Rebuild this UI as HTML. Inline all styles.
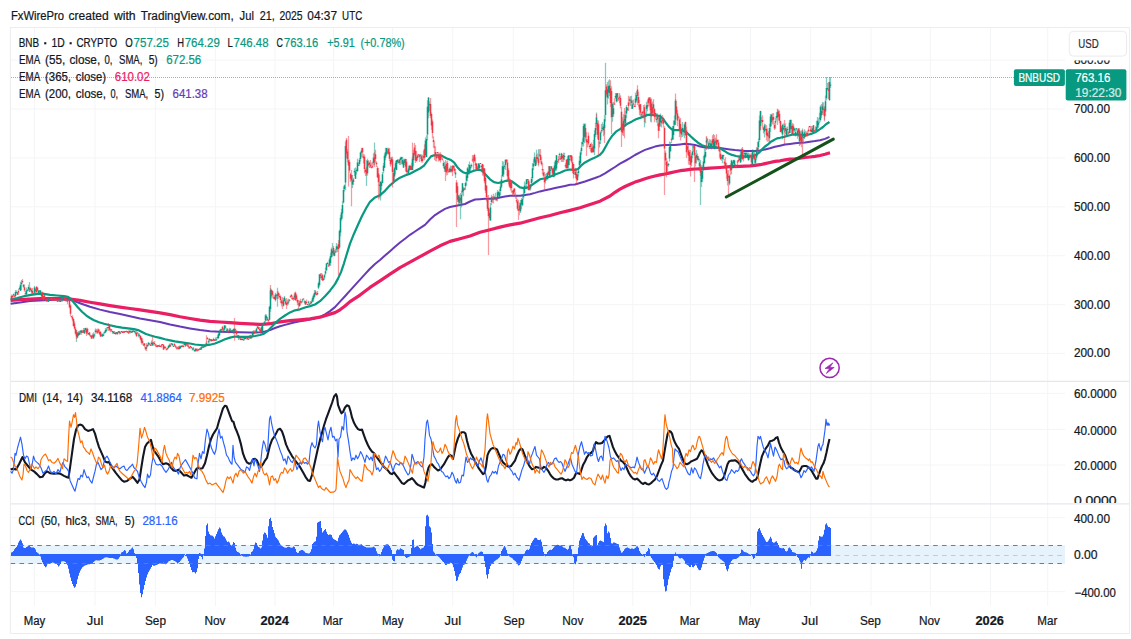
<!DOCTYPE html><html><head><meta charset="utf-8"><title>BNBUSD chart</title>
<style>html,body{margin:0;padding:0;background:#fff;}body{width:1131px;height:639px;overflow:hidden;font-family:"Liberation Sans",sans-serif;}svg{display:block;position:absolute;left:0;top:0;}text{font-family:"Liberation Sans",sans-serif;white-space:pre;}</style></head><body>
<svg width="1131" height="639" viewBox="0 0 1131 639">
<rect x="0" y="0" width="1131" height="639" fill="#ffffff"/>
<g stroke="#f4f5f7" stroke-width="1">
<line x1="34.5" y1="28" x2="34.5" y2="606"/>
<line x1="95.0" y1="28" x2="95.0" y2="606"/>
<line x1="155.4" y1="28" x2="155.4" y2="606"/>
<line x1="215.4" y1="28" x2="215.4" y2="606"/>
<line x1="275.0" y1="28" x2="275.0" y2="606"/>
<line x1="333.5" y1="28" x2="333.5" y2="606"/>
<line x1="392.6" y1="28" x2="392.6" y2="606"/>
<line x1="452.7" y1="28" x2="452.7" y2="606"/>
<line x1="513.3" y1="28" x2="513.3" y2="606"/>
<line x1="573.5" y1="28" x2="573.5" y2="606"/>
<line x1="632.8" y1="28" x2="632.8" y2="606"/>
<line x1="690.5" y1="28" x2="690.5" y2="606"/>
<line x1="750.5" y1="28" x2="750.5" y2="606"/>
<line x1="810.6" y1="28" x2="810.6" y2="606"/>
<line x1="871.0" y1="28" x2="871.0" y2="606"/>
<line x1="930.4" y1="28" x2="930.4" y2="606"/>
<line x1="990.5" y1="28" x2="990.5" y2="606"/>
<line x1="1047.7" y1="28" x2="1047.7" y2="606"/>
<line x1="11" y1="60.10" x2="1065" y2="60.10"/>
<line x1="11" y1="109.00" x2="1065" y2="109.00"/>
<line x1="11" y1="157.90" x2="1065" y2="157.90"/>
<line x1="11" y1="206.80" x2="1065" y2="206.80"/>
<line x1="11" y1="255.70" x2="1065" y2="255.70"/>
<line x1="11" y1="304.60" x2="1065" y2="304.60"/>
<line x1="11" y1="353.45" x2="1065" y2="353.45"/>
<line x1="11" y1="393.40" x2="1065" y2="393.40"/>
<line x1="11" y1="429.50" x2="1065" y2="429.50"/>
<line x1="11" y1="465.00" x2="1065" y2="465.00"/>
<line x1="11" y1="517.70" x2="1065" y2="517.70"/>
<line x1="11" y1="591.60" x2="1065" y2="591.60"/>
</g>
<rect x="11" y="545.2" width="1054" height="18.7" fill="#e6f2fc"/>
<g stroke="#e4e7ef" stroke-width="1.2">
<line x1="11" y1="381.4" x2="1129" y2="381.4"/>
<line x1="11" y1="503.8" x2="1129" y2="503.8"/>
</g>
<rect x="10.4" y="27.5" width="1119" height="606" fill="none" stroke="#ededf0" stroke-width="1"/>
<line x1="11" y1="77.5" x2="1014" y2="77.5" stroke="#089981" stroke-width="1" stroke-dasharray="1 1" shape-rendering="crispEdges" stroke-opacity="0.55"/>
<polyline points="10.6,303.7 20.0,302.5 30.0,301.1 40.0,300.4 50.0,300.0 60.0,299.4 66.0,299.4 70.0,299.7 75.0,301.4 80.0,303.2 90.0,306.8 100.0,309.6 110.0,312.0 120.0,314.1 130.0,316.3 140.0,318.4 150.0,320.2 160.0,322.0 170.0,324.5 180.0,326.6 190.0,328.4 200.0,330.1 210.0,331.2 220.0,331.8 230.0,332.0 240.0,332.2 250.0,332.5 255.0,332.5 260.0,332.2 265.0,331.5 270.0,330.1 275.0,328.0 280.0,326.3 285.0,324.9 290.0,323.5 295.0,322.3 300.0,321.3 305.0,320.5 310.0,319.5 315.0,318.4 320.0,317.0 325.0,314.4 330.0,311.1 335.0,307.1 340.0,301.6 345.0,296.2 350.0,290.7 355.0,285.2 360.0,279.7 365.0,274.2 370.0,268.8 375.0,264.0 380.0,260.0 385.0,255.6 390.0,251.2 395.0,246.8 400.0,242.5 405.0,238.7 410.0,234.8 415.0,231.5 420.0,228.2 425.0,224.9 430.0,219.5 435.0,215.1 440.0,211.8 445.0,208.9 450.0,207.0 455.0,206.0 460.0,205.0 465.0,204.0 470.0,201.5 475.0,199.5 480.0,199.2 485.0,198.8 490.0,198.8 495.0,198.6 500.0,197.5 505.0,196.4 510.0,195.8 515.0,195.8 520.0,195.8 525.0,195.1 530.0,194.2 535.0,192.9 540.0,191.4 545.0,190.3 550.0,189.2 555.0,188.1 560.0,187.0 565.0,185.9 570.0,184.8 575.0,184.5 580.0,183.0 585.0,181.5 590.0,179.7 595.0,178.0 600.0,176.1 605.0,173.4 610.0,170.2 615.0,167.0 620.0,163.7 625.0,161.0 630.0,158.2 635.0,155.0 640.0,152.3 645.0,149.9 650.0,148.2 655.0,146.6 660.0,145.5 665.0,144.9 670.0,144.9 675.0,144.9 680.0,144.4 685.0,143.8 690.0,144.2 695.0,144.9 700.0,146.5 705.0,147.4 710.0,147.7 715.0,147.4 720.0,148.0 725.0,148.8 730.0,149.5 735.0,150.1 740.0,150.5 745.0,150.9 750.0,151.1 755.0,151.1 760.0,150.5 765.0,149.4 770.0,148.3 775.0,146.8 780.0,145.7 785.0,144.6 790.0,143.9 795.0,143.2 800.0,142.8 805.0,142.4 810.0,141.7 815.0,141.1 820.0,140.2 825.0,138.9 829.5,136.9" fill="none" stroke="#673ab7" stroke-width="2" stroke-linejoin="round" stroke-linecap="butt"/>
<polyline points="10.6,300.4 20.0,299.7 30.0,299.1 40.0,298.7 50.0,298.7 60.0,298.7 70.0,299.0 80.0,300.4 90.0,302.2 100.0,303.9 110.0,305.6 120.0,307.1 130.0,308.5 140.0,309.9 150.0,311.3 160.0,312.9 170.0,314.6 180.0,316.7 190.0,318.5 200.0,320.2 210.0,321.3 220.0,322.0 230.0,322.6 240.0,323.3 250.0,323.9 260.0,324.3 265.0,324.2 270.0,323.7 275.0,322.8 280.0,321.9 290.0,320.6 300.0,319.8 310.0,318.8 320.0,317.2 330.0,314.1 335.0,312.6 340.0,309.8 345.0,306.0 350.0,301.6 360.0,295.1 370.0,287.4 380.0,280.8 390.0,274.2 400.0,267.7 410.0,262.2 420.0,256.7 430.0,251.2 440.0,245.8 450.0,241.4 460.0,238.7 470.0,236.0 480.0,232.2 490.0,229.7 500.0,227.1 510.0,224.9 520.0,223.2 530.0,220.5 540.0,217.7 550.0,215.5 560.0,212.8 570.0,210.4 580.0,207.8 590.0,204.5 600.0,201.2 610.0,196.0 615.0,192.3 620.0,189.1 625.0,186.5 630.0,184.3 635.0,182.1 640.0,180.4 645.0,178.8 650.0,177.3 655.0,176.0 660.0,174.9 665.0,174.0 670.0,172.9 675.0,171.8 680.0,170.7 685.0,170.1 690.0,169.4 695.0,169.0 700.0,168.8 710.0,168.2 720.0,167.5 730.0,166.7 740.0,166.3 750.0,165.8 755.0,165.4 760.0,164.7 765.0,163.6 770.0,162.5 775.0,161.4 780.0,160.8 785.0,159.9 790.0,159.2 795.0,158.8 800.0,158.2 805.0,157.5 810.0,157.0 815.0,156.4 820.0,155.5 825.0,154.2 830.0,152.7" fill="none" stroke="#e91e63" stroke-width="3.2" stroke-linejoin="round" stroke-linecap="butt"/>
<polyline points="10.6,299.4 17.0,298.0 24.0,296.2 31.0,294.8 38.0,293.8 42.5,293.6 50.0,294.9 57.0,295.5 64.0,296.2 68.0,296.9 71.0,299.0 74.0,302.8 78.0,307.5 82.0,311.7 86.0,315.3 90.0,318.0 94.0,320.2 99.0,322.3 104.0,323.7 110.0,325.2 116.0,326.6 122.0,327.7 128.0,328.3 134.0,329.1 138.0,330.1 142.0,332.0 146.0,334.0 150.0,335.3 155.0,336.8 160.0,337.9 165.0,339.3 170.0,340.4 175.0,341.4 180.0,342.1 185.0,342.8 190.0,343.5 195.0,344.5 200.0,345.0 205.0,345.4 210.0,344.7 215.0,343.5 220.0,341.4 225.0,339.3 230.0,337.6 235.0,336.5 240.0,336.8 245.0,336.9 250.0,336.8 255.0,336.0 260.0,335.0 264.0,333.6 268.0,330.8 272.0,326.6 276.0,322.3 280.0,318.8 285.0,315.5 290.0,312.4 295.0,310.3 300.0,309.3 305.0,307.5 310.0,306.1 315.0,304.5 320.0,301.2 325.0,296.2 330.0,290.7 335.0,284.1 338.0,278.6 341.0,272.1 344.0,263.3 347.0,253.4 350.0,243.6 354.0,233.7 358.0,224.8 362.0,216.0 366.0,208.4 370.0,201.8 375.0,197.4 380.0,195.2 385.0,190.8 390.0,185.3 395.0,181.0 400.0,177.7 405.0,175.5 410.0,173.7 415.0,171.1 420.0,168.5 424.0,165.6 428.0,160.1 431.0,156.4 434.0,155.3 437.0,155.3 440.0,155.3 443.0,156.4 447.0,158.4 451.0,160.1 454.0,162.3 457.0,166.7 460.0,170.0 463.0,172.2 466.0,173.3 470.0,172.2 474.0,170.7 478.0,169.6 482.0,170.5 486.0,174.9 490.0,179.3 494.0,182.2 498.0,183.0 502.0,182.2 506.0,180.8 509.0,180.4 512.0,181.5 516.0,184.4 520.0,187.4 524.0,188.1 528.0,187.4 532.0,184.8 536.0,182.0 540.0,179.3 545.0,178.2 550.0,176.7 555.0,174.5 560.0,172.7 565.0,170.5 570.0,169.5 575.0,169.9 578.0,169.0 581.0,165.7 585.0,162.4 590.0,159.8 595.0,157.6 600.0,154.7 603.0,151.4 606.0,146.0 609.0,140.5 612.0,136.1 616.0,131.7 620.0,129.1 624.0,126.2 628.0,123.4 632.0,121.4 636.0,119.2 640.0,117.9 644.0,116.4 648.0,114.8 652.0,114.6 656.0,115.3 660.0,116.4 663.0,118.6 666.0,123.0 669.0,126.9 672.0,129.5 675.0,130.2 679.0,130.2 683.0,130.6 686.0,132.2 690.0,135.7 694.0,139.4 698.0,142.7 702.0,145.2 706.0,146.6 710.0,147.0 715.0,147.0 720.0,148.3 724.0,150.7 728.0,153.3 732.0,154.9 736.0,156.0 740.0,156.6 744.0,156.6 748.0,156.4 752.0,156.0 756.0,154.9 759.0,152.7 762.0,149.4 765.0,146.5 768.0,144.3 771.0,141.7 774.0,140.0 777.0,138.4 780.0,137.8 784.0,136.9 788.0,135.8 792.0,134.7 796.0,134.3 800.0,134.7 804.0,135.1 808.0,134.7 812.0,133.6 816.0,131.9 820.0,129.2 823.0,127.0 826.0,124.2 829.5,122.0" fill="none" stroke="#089981" stroke-width="2.2" stroke-linejoin="round" stroke-linecap="butt"/>
<path d="M13.5 293.5V296.4M15.5 289.9V296.6M16.5 290.3V293.3M19.5 286.6V289.9M20.5 281.8V291.1M21.5 281.1V285.0M23.5 284.3V287.8M26.5 287.4V295.1M27.5 289.0V291.4M28.5 284.8V290.9M31.5 288.6V293.7M34.5 286.0V293.5M35.5 288.3V293.0M38.5 290.1V293.7M39.5 290.1V294.4M40.5 290.1V293.6M41.5 292.5V298.5M45.5 299.3V301.1M47.5 298.0V302.0M48.5 298.0V302.0M53.5 298.4V300.4M57.5 299.0V301.8M58.5 299.0V301.8M60.5 299.5V301.8M61.5 296.6V301.8M62.5 297.7V301.8M63.5 296.6V300.7M66.5 298.7V301.4M68.5 298.7V300.0M77.5 331.9V338.3M78.5 330.9V336.1M80.5 329.9V334.4M81.5 329.8V334.7M84.5 328.1V334.0M85.5 327.7V331.9M88.5 333.0V334.9M93.5 332.2V338.8M94.5 333.6V337.1M95.5 328.4V333.6M101.5 333.5V336.8M102.5 333.4V336.8M103.5 332.4V336.0M104.5 331.4V334.1M105.5 328.0V333.0M106.5 327.7V331.7M112.5 331.0V334.0M113.5 331.0V334.0M116.5 332.0V334.2M118.5 331.0V332.8M120.5 332.4V333.7M123.5 331.3V333.0M127.5 331.0V332.9M129.5 330.5V333.5M130.5 330.5V333.4M132.5 330.5V333.0M133.5 330.5V332.1M134.5 331.0V333.1M135.5 331.0V334.6M138.5 333.0V337.3M143.5 343.1V345.5M146.5 345.5V349.0M147.5 344.0V347.1M148.5 342.1V346.1M151.5 340.4V345.9M152.5 342.0V345.9M159.5 344.4V346.9M168.5 345.5V348.5M169.5 343.4V347.3M171.5 343.4V345.0M172.5 343.4V346.0M173.5 345.7V346.9M179.5 345.5V349.4M180.5 345.5V349.1M181.5 345.5V347.3M184.5 343.4V345.2M185.5 343.6V346.9M189.5 347.1V348.7M192.5 347.7V350.6M194.5 349.7V351.5M195.5 348.3V351.5M200.5 346.9V350.1M201.5 346.0V350.1M202.5 346.1V347.9M204.5 345.9V347.3M206.5 341.5V345.8M208.5 339.3V343.4M210.5 339.2V341.3M213.5 337.7V340.9M215.5 337.5V340.9M216.5 337.6V340.8M217.5 335.3V339.1M218.5 332.1V339.2M219.5 330.0V336.1M220.5 328.8V333.0M223.5 328.1V332.0M224.5 325.3V330.8M225.5 325.2V328.4M226.5 328.2V332.4M229.5 327.7V332.1M230.5 328.1V331.3M232.5 329.7V332.1M233.5 328.4V333.9M234.5 328.0V331.2M237.5 335.1V338.1M238.5 334.8V339.9M241.5 338.4V340.2M242.5 338.4V340.2M244.5 337.7V340.2M245.5 337.8V339.3M250.5 334.8V338.9M252.5 331.2V336.3M253.5 330.3V336.4M256.5 328.0V333.2M261.5 325.9V333.2M262.5 323.6V332.1M263.5 322.5V326.0M264.5 321.0V323.0M265.5 314.0V322.3M266.5 314.4V318.9M269.5 305.8V320.2M270.5 288.0V312.0M275.5 292.8V301.4M276.5 294.2V298.7M283.5 298.0V306.5M284.5 296.0V301.5M288.5 298.8V304.5M294.5 293.7V299.9M299.5 300.6V306.9M302.5 298.7V302.3M304.5 300.2V303.7M308.5 300.8V304.5M309.5 303.2V304.9M311.5 300.3V303.5M312.5 296.4V302.1M313.5 293.7V301.7M314.5 289.9V297.5M317.5 290.9V295.1M318.5 281.8V289.2M319.5 274.0V286.6M321.5 273.1V279.9M323.5 277.5V280.8M324.5 274.1V279.6M325.5 267.5V275.3M326.5 263.3V270.9M327.5 261.8V264.3M329.5 257.8V266.2M330.5 252.7V265.9M331.5 247.5V257.8M332.5 249.2V256.6M334.5 249.9V256.3M336.5 243.1V252.5M337.5 245.4V252.0M339.5 229.6V248.2M340.5 214.7V236.5M341.5 208.8V220.7M342.5 201.3V218.5M343.5 186.4V203.5M344.5 184.4V191.6M345.5 143.5V184.1M352.5 175.1V188.1M354.5 168.2V175.9M355.5 167.6V179.0M356.5 168.4V174.6M357.5 158.8V172.0M358.5 162.6V165.8M359.5 158.0V165.8M360.5 151.8V161.5M361.5 147.8V157.2M367.5 158.8V175.4M369.5 161.4V168.0M373.5 153.3V165.4M380.5 180.9V200.4M381.5 180.4V190.2M382.5 171.9V183.3M383.5 163.1V173.4M384.5 153.5V168.0M385.5 147.8V160.2M386.5 147.8V156.1M387.5 147.8V154.3M391.5 156.7V164.4M394.5 167.3V180.1M395.5 161.0V174.4M396.5 159.9V170.2M397.5 158.9V163.7M398.5 159.3V163.6M400.5 156.7V165.1M401.5 156.7V164.3M402.5 156.7V165.0M403.5 158.8V168.0M404.5 158.8V164.9M408.5 165.4V174.6M409.5 164.8V171.3M412.5 156.5V170.3M413.5 149.8V166.3M417.5 154.5V160.0M420.5 154.5V158.7M423.5 150.5V159.4M425.5 137.4V157.2M426.5 135.2V157.2M427.5 100.2V140.4M428.5 97.3V113.9M429.5 101.6V110.8M443.5 160.4V167.9M444.5 162.0V171.7M450.5 165.4V172.4M453.5 165.4V169.3M455.5 169.0V178.0M458.5 194.9V205.4M460.5 192.9V205.9M461.5 190.6V207.5M462.5 182.9V195.2M464.5 187.6V189.9M465.5 181.5V189.9M466.5 173.5V185.5M467.5 166.9V181.3M468.5 163.9V174.6M469.5 161.4V174.6M470.5 164.5V171.3M471.5 163.6V167.4M473.5 156.6V162.5M478.5 163.2V170.2M479.5 163.2V170.2M481.5 164.7V172.3M483.5 164.9V176.2M490.5 202.7V221.0M491.5 194.8V205.2M494.5 195.7V199.6M495.5 192.8V200.5M497.5 190.1V201.3M498.5 191.1V197.1M499.5 189.2V197.1M500.5 181.4V195.3M501.5 175.2V188.3M502.5 161.0V177.2M503.5 161.8V177.1M504.5 164.7V168.9M505.5 159.4V170.1M520.5 200.1V212.9M521.5 198.0V209.0M522.5 195.6V205.8M523.5 188.7V199.3M524.5 181.4V194.7M525.5 183.3V188.3M526.5 179.1V189.3M530.5 184.0V190.5M531.5 177.0V186.3M532.5 163.1V181.7M533.5 159.3V170.1M534.5 152.4V164.7M535.5 156.7V166.3M537.5 153.5V161.6M545.5 174.0V183.5M546.5 172.9V180.5M547.5 171.7V179.5M549.5 166.0V177.3M550.5 166.1V174.9M553.5 167.6V177.3M554.5 162.1V177.3M555.5 160.0V170.9M556.5 155.0V170.8M559.5 152.8V159.8M561.5 152.7V162.1M564.5 152.8V160.3M567.5 156.3V168.6M568.5 155.0V168.6M575.5 167.7V178.1M577.5 171.9V180.9M578.5 169.4V176.4M579.5 155.9V168.7M580.5 150.5V164.1M581.5 141.8V154.5M582.5 138.2V146.8M583.5 123.6V146.4M584.5 123.6V143.2M587.5 139.0V147.4M593.5 139.8V152.8M594.5 130.2V154.9M595.5 122.8V137.1M596.5 112.6V126.7M599.5 140.4V147.6M600.5 131.3V143.9M602.5 122.3V131.2M603.5 124.1V136.2M604.5 115.0V134.6M605.5 87.4V121.4M607.5 82.1V104.6M608.5 80.5V98.7M609.5 79.3V96.0M612.5 102.6V121.8M613.5 101.9V117.1M615.5 92.9V98.8M616.5 92.9V102.5M619.5 92.9V103.2M623.5 114.2V135.9M624.5 114.8V124.6M625.5 110.8V127.1M626.5 104.9V117.9M627.5 107.2V111.3M630.5 96.1V105.9M632.5 100.2V109.1M635.5 92.8V106.9M636.5 91.2V102.3M641.5 112.6V116.4M645.5 112.5V123.3M646.5 101.8V115.5M653.5 99.2V113.4M656.5 113.5V122.5M659.5 114.6V130.9M660.5 113.6V126.6M668.5 163.1V166.8M669.5 141.6V161.4M670.5 141.9V151.9M672.5 126.0V139.7M673.5 120.6V139.7M674.5 115.4V125.9M675.5 98.9V124.7M681.5 127.3V137.5M682.5 122.0V137.0M683.5 128.3V135.8M684.5 123.3V138.3M691.5 153.2V166.3M692.5 146.1V158.3M693.5 145.6V152.1M696.5 150.1V163.5M698.5 156.1V161.7M699.5 158.7V170.6M701.5 165.3V187.0M702.5 165.3V182.2M703.5 156.1V170.9M704.5 148.7V163.8M705.5 147.7V158.1M706.5 137.3V147.5M708.5 141.2V149.5M710.5 139.6V147.4M711.5 140.7V149.4M713.5 134.0V147.2M714.5 140.1V149.4M715.5 137.7V148.6M721.5 154.9V160.7M722.5 154.6V163.2M729.5 174.8V185.2M731.5 159.7V174.3M732.5 161.5V167.4M733.5 159.7V164.2M734.5 159.7V165.6M739.5 156.0V160.8M740.5 151.5V162.7M741.5 149.2V161.4M744.5 152.4V157.0M745.5 152.4V158.4M746.5 152.4V157.4M747.5 152.4V158.4M748.5 152.4V160.6M752.5 149.2V166.0M753.5 149.8V159.6M755.5 156.3V166.0M756.5 147.2V159.8M758.5 138.5V149.9M759.5 115.5V141.9M760.5 110.7V130.6M764.5 123.6V137.5M769.5 123.7V142.0M770.5 114.0V132.1M771.5 113.7V126.1M775.5 117.8V128.7M776.5 112.3V120.8M777.5 108.7V118.3M781.5 125.9V133.2M782.5 123.8V139.2M783.5 123.4V130.6M784.5 124.2V132.5M786.5 127.5V136.0M787.5 126.6V136.1M789.5 119.9V133.4M790.5 119.5V133.1M793.5 123.8V133.9M794.5 128.3V132.0M795.5 128.3V136.5M796.5 128.3V130.7M797.5 129.2V138.7M799.5 128.3V145.9M802.5 128.6V141.2M804.5 129.3V139.1M811.5 126.1V132.2M812.5 126.1V132.2M815.5 126.2V131.1M816.5 120.8V131.1M817.5 117.1V130.0M818.5 118.4V127.8M819.5 112.8V123.0M820.5 105.3V121.7M821.5 104.1V118.1M822.5 102.1V113.0M825.5 95.5V116.2M826.5 83.6V100.5M827.5 82.9V90.1M829.5 77.2V100.5M830.5 77.2V88.0M21.5 280.0V290.0M29.5 282.0V292.0M76.5 330.0V342.0M224.5 324.9V331.0M266.5 315.0V321.0M277.5 287.7V306.8M332.5 243.0V256.0M345.5 141.5V190.0M366.5 160.0V186.0M374.5 142.6V165.0M428.5 98.8V118.0M460.5 195.0V219.3M536.5 149.7V165.0M538.5 149.3V165.0M584.5 125.0V140.0M605.5 62.7V110.0M644.5 108.0V127.3M650.5 100.0V121.8M700.5 160.0V205.0M741.5 148.3V160.0M754.5 150.0V164.7M790.5 120.9V132.0M824.5 106.0V119.8M826.5 77.0V95.0M830.5 77.0V86.0" stroke="#089981" stroke-opacity="0.5" stroke-width="1.25" fill="none"/>
<path d="M11.5 294.5V299.3M12.5 294.9V298.9M14.5 294.7V296.5M17.5 291.9V295.0M18.5 289.1V294.7M22.5 278.9V283.3M24.5 284.5V291.8M25.5 290.6V294.8M29.5 288.1V292.0M30.5 287.3V291.2M32.5 288.0V293.7M33.5 294.5V293.7M36.5 285.9V293.1M37.5 286.8V291.2M42.5 291.6V299.2M43.5 295.4V300.4M44.5 295.0V299.0M46.5 298.9V302.0M49.5 298.8V300.4M50.5 298.0V300.0M51.5 298.4V300.4M52.5 298.4V300.4M54.5 298.4V301.0M55.5 299.0V301.0M56.5 299.0V300.8M59.5 299.0V301.8M64.5 296.6V300.7M65.5 296.6V301.4M67.5 298.7V304.2M69.5 299.4V308.6M70.5 304.5V316.2M71.5 316.0V317.3M72.5 315.2V321.3M73.5 318.6V326.6M74.5 321.3V329.4M75.5 327.0V334.7M76.5 330.0V338.9M79.5 330.7V335.0M82.5 330.1V333.0M83.5 328.0V333.0M86.5 327.7V335.9M87.5 327.7V334.8M89.5 332.0V335.5M90.5 334.8V336.9M91.5 335.0V338.9M92.5 333.5V338.5M96.5 328.9V333.6M97.5 328.4V334.1M98.5 328.4V333.0M99.5 329.4V335.1M100.5 331.0V336.8M107.5 327.0V329.7M108.5 326.4V328.5M109.5 324.2V331.0M110.5 328.5V332.2M111.5 329.0V331.8M114.5 331.0V334.0M115.5 332.0V334.6M117.5 332.0V334.6M119.5 331.0V334.6M121.5 331.0V332.2M122.5 331.0V333.0M124.5 331.0V333.0M125.5 331.0V332.2M126.5 331.0V332.6M128.5 330.5V334.0M131.5 330.5V333.0M136.5 331.1V337.1M137.5 332.6V333.4M139.5 333.4V337.7M140.5 335.6V340.2M141.5 337.2V344.4M142.5 338.6V344.5M144.5 343.1V347.6M145.5 346.7V350.4M149.5 343.2V344.6M150.5 344.0V345.9M153.5 341.5V345.5M154.5 341.1V345.6M155.5 344.1V346.5M156.5 344.5V347.3M157.5 345.1V347.3M158.5 345.1V346.9M160.5 345.8V346.9M161.5 344.1V347.5M162.5 344.1V344.8M163.5 344.1V350.1M164.5 346.0V349.0M165.5 346.2V348.6M166.5 348.6V350.1M167.5 347.7V349.9M170.5 343.5V347.0M174.5 343.4V346.3M175.5 345.3V348.1M176.5 346.2V349.4M177.5 346.4V349.4M178.5 346.0V349.4M182.5 344.7V347.3M183.5 344.6V347.3M186.5 343.4V345.9M187.5 343.5V347.0M188.5 344.3V348.6M190.5 345.7V348.4M191.5 346.9V348.5M193.5 347.0V350.0M196.5 348.3V351.4M197.5 348.5V351.5M198.5 348.9V351.0M199.5 348.3V350.1M203.5 345.4V347.9M205.5 343.3V347.3M207.5 337.1V339.5M209.5 338.1V342.6M211.5 339.1V341.6M212.5 339.4V340.9M214.5 339.2V340.9M221.5 329.0V330.9M222.5 325.8V331.5M227.5 328.1V332.3M228.5 329.9V333.2M231.5 330.2V331.8M235.5 328.4V331.9M236.5 330.0V335.3M239.5 335.9V339.3M240.5 337.1V340.2M243.5 338.2V340.2M246.5 337.0V339.5M247.5 337.2V339.5M248.5 338.6V339.6M249.5 335.0V338.9M251.5 335.4V338.9M254.5 330.2V334.2M255.5 330.0V333.0M257.5 326.3V328.9M258.5 326.3V329.3M259.5 327.0V331.8M260.5 327.9V333.2M267.5 316.9V321.2M268.5 319.2V321.8M271.5 288.9V298.3M272.5 290.5V297.4M273.5 294.6V298.6M274.5 295.6V299.6M277.5 291.2V299.0M278.5 291.6V298.7M279.5 293.6V298.1M280.5 295.2V303.0M281.5 299.4V306.4M282.5 299.8V304.7M285.5 299.0V304.8M286.5 300.8V307.4M287.5 299.5V305.8M289.5 299.3V301.4M290.5 295.2V297.5M291.5 294.0V299.1M292.5 295.9V300.0M293.5 297.0V300.7M295.5 291.5V301.0M296.5 294.1V301.1M297.5 298.7V305.2M298.5 300.8V304.9M300.5 298.7V305.3M301.5 300.9V303.5M303.5 298.7V299.6M305.5 300.7V304.9M306.5 299.6V304.1M307.5 304.2V304.9M310.5 301.1V303.5M315.5 289.9V294.8M316.5 292.6V295.0M320.5 273.1V278.5M322.5 273.7V280.8M328.5 263.8V266.6M333.5 246.1V255.8M335.5 248.9V253.1M338.5 240.3V250.6M346.5 138.0V157.9M347.5 148.9V162.4M348.5 155.9V169.2M349.5 159.4V173.1M350.5 172.8V182.0M351.5 172.6V182.3M353.5 177.9V185.0M362.5 147.8V157.6M363.5 153.7V163.6M364.5 154.5V173.2M365.5 168.2V175.9M366.5 166.9V175.7M368.5 160.2V166.5M370.5 160.0V168.0M371.5 162.4V168.0M372.5 161.7V168.0M374.5 152.2V166.9M375.5 149.8V162.9M376.5 161.3V166.9M377.5 166.2V178.1M378.5 168.0V183.6M379.5 180.9V188.5M388.5 147.8V154.6M389.5 148.0V161.0M390.5 157.2V166.5M392.5 156.7V177.8M393.5 169.7V183.9M399.5 159.0V164.9M405.5 158.8V171.3M406.5 159.1V174.3M407.5 169.8V174.3M410.5 165.1V170.2M411.5 162.7V170.2M414.5 143.0V156.3M415.5 144.9V162.9M416.5 150.9V161.4M418.5 154.4V157.3M419.5 154.4V162.0M421.5 154.5V162.5M422.5 154.8V162.5M424.5 144.2V160.2M430.5 97.9V118.2M431.5 112.6V129.8M432.5 119.4V138.4M433.5 136.3V147.7M434.5 144.0V148.8M435.5 146.6V161.0M436.5 153.6V161.4M437.5 152.2V158.0M438.5 152.2V161.5M439.5 152.7V161.1M440.5 152.3V162.5M441.5 154.5V158.7M442.5 158.7V160.5M445.5 164.1V175.7M446.5 161.2V175.6M447.5 160.5V175.1M448.5 169.2V172.4M449.5 167.6V172.4M451.5 166.1V172.4M452.5 165.4V175.9M454.5 165.6V173.3M456.5 181.3V195.2M457.5 182.6V202.0M459.5 194.4V205.1M463.5 186.9V196.3M472.5 154.9V162.0M474.5 153.7V162.5M475.5 157.6V168.8M476.5 163.2V170.2M477.5 165.9V170.2M480.5 163.2V163.8M482.5 163.7V175.6M484.5 168.2V183.2M485.5 174.8V193.0M486.5 184.9V201.6M487.5 195.6V211.1M488.5 205.4V217.9M489.5 209.2V220.6M492.5 195.9V203.0M493.5 193.7V203.6M496.5 198.0V201.3M506.5 159.4V163.2M507.5 159.4V181.8M508.5 168.2V184.6M509.5 177.8V187.5M510.5 179.1V190.5M511.5 180.2V192.7M512.5 190.2V195.5M513.5 188.5V196.1M514.5 187.9V195.2M515.5 192.3V198.7M516.5 196.4V203.0M517.5 198.8V210.5M518.5 206.6V214.5M519.5 202.5V215.2M527.5 179.1V183.6M528.5 179.1V190.5M529.5 181.6V190.5M536.5 154.6V163.6M538.5 157.9V166.4M539.5 149.3V156.7M540.5 148.9V162.5M541.5 157.2V165.5M542.5 163.1V174.5M543.5 169.3V176.9M544.5 174.6V184.7M548.5 166.0V175.1M551.5 166.0V170.2M552.5 168.2V175.0M557.5 160.6V164.2M558.5 155.7V163.0M560.5 156.0V159.8M562.5 153.9V162.1M563.5 152.8V162.0M565.5 163.2V168.3M566.5 159.4V168.6M569.5 155.0V164.9M570.5 154.9V160.6M571.5 155.0V163.0M572.5 156.6V172.9M573.5 163.7V178.5M574.5 168.7V175.1M576.5 171.8V184.6M585.5 123.6V140.6M586.5 137.6V147.5M588.5 132.4V145.3M589.5 145.1V148.9M590.5 143.5V151.4M591.5 142.4V152.8M592.5 143.9V152.8M597.5 119.9V138.7M598.5 120.6V142.9M601.5 124.1V133.3M606.5 84.3V96.7M610.5 87.1V107.1M611.5 86.3V123.7M614.5 98.2V104.7M617.5 92.9V101.4M618.5 97.3V100.9M620.5 95.2V108.4M621.5 106.8V138.2M622.5 117.3V135.3M628.5 95.7V111.0M629.5 96.8V104.7M631.5 95.7V109.1M633.5 99.5V105.6M634.5 104.3V106.9M637.5 85.3V97.2M638.5 91.7V106.7M639.5 99.9V115.2M640.5 103.9V115.7M642.5 110.7V116.9M643.5 105.1V118.5M644.5 104.5V122.2M647.5 99.7V111.3M648.5 97.3V106.2M649.5 97.3V106.4M650.5 97.3V113.9M651.5 98.5V122.4M652.5 101.4V115.7M654.5 108.4V122.2M655.5 112.8V119.2M657.5 113.6V126.0M658.5 122.0V135.2M661.5 116.5V127.5M662.5 115.0V124.2M663.5 117.8V127.7M664.5 126.3V152.8M665.5 150.4V165.3M666.5 157.9V177.2M667.5 160.7V171.5M671.5 137.6V142.9M676.5 100.4V115.6M677.5 109.9V126.3M678.5 116.6V118.8M679.5 117.6V137.1M680.5 120.5V138.9M685.5 121.6V136.1M686.5 126.4V157.9M687.5 145.3V154.4M688.5 145.9V160.4M689.5 149.8V164.9M690.5 154.1V167.0M694.5 145.7V159.0M695.5 152.7V166.5M697.5 153.5V160.4M700.5 164.0V175.9M707.5 138.1V143.4M709.5 139.2V148.5M712.5 135.3V145.8M716.5 134.3V146.6M717.5 139.6V143.3M718.5 139.6V150.8M719.5 145.9V157.5M720.5 150.6V159.9M723.5 154.7V159.7M724.5 159.0V167.0M725.5 157.2V169.6M726.5 162.7V178.8M727.5 170.2V185.6M728.5 174.4V181.8M730.5 163.5V175.0M735.5 164.1V167.3M736.5 165.7V167.3M737.5 160.0V166.0M738.5 156.6V162.3M742.5 146.9V160.1M743.5 150.2V161.4M749.5 153.5V159.6M750.5 153.6V158.2M751.5 153.3V165.4M754.5 153.6V159.8M757.5 142.2V156.2M761.5 116.9V123.3M762.5 115.2V128.5M763.5 126.7V133.4M765.5 124.3V130.8M766.5 126.9V136.4M767.5 128.4V141.7M768.5 130.9V141.5M772.5 113.2V124.2M773.5 112.9V124.7M774.5 122.5V130.0M778.5 109.4V120.4M779.5 110.5V123.3M780.5 120.6V132.2M785.5 123.2V134.3M788.5 131.5V134.4M791.5 119.7V134.4M792.5 122.9V134.4M798.5 128.3V136.8M800.5 131.3V144.9M801.5 130.6V147.3M803.5 135.8V143.4M805.5 130.7V136.5M806.5 131.4V136.5M807.5 130.8V136.5M808.5 127.2V132.4M809.5 126.1V128.1M810.5 126.1V132.2M813.5 125.0V132.2M814.5 131.9V131.1M823.5 102.5V115.2M824.5 107.3V121.3M828.5 84.8V95.8M108.5 323.0V331.0M146.5 343.0V351.0M152.5 336.5V345.0M206.5 335.3V344.0M234.5 318.0V340.7M270.5 284.9V300.0M282.5 297.0V308.9M286.5 298.0V308.9M294.5 292.5V299.0M298.5 300.0V309.3M338.5 241.4V275.3M348.5 136.0V186.4M351.5 170.0V206.2M378.5 170.0V199.6M379.5 175.0V198.5M392.5 160.0V187.5M412.5 142.6V168.0M434.5 141.5V160.0M445.5 160.0V181.0M456.5 180.0V227.0M473.5 155.0V170.0M488.5 195.0V255.0M518.5 200.0V219.9M544.5 172.0V189.2M576.5 170.0V184.8M586.5 132.0V156.0M596.5 114.0V130.0M598.5 125.0V155.8M604.5 125.0V143.0M610.5 80.2V100.0M611.5 95.0V133.9M621.5 110.0V147.0M624.5 108.0V138.3M637.5 86.8V105.0M658.5 115.0V138.3M664.5 130.0V195.0M675.5 93.4V125.0M680.5 118.0V140.5M688.5 145.0V164.6M690.5 150.0V176.6M694.5 150.0V182.1M706.5 136.0V150.0M714.5 135.0V148.0M728.5 170.0V196.5M760.5 112.1V130.0M766.5 125.0V140.6M777.5 109.5V125.0M784.5 120.0V143.9M802.5 130.0V156.0M822.5 104.5V115.0M828.5 82.0V99.0" stroke="#f23645" stroke-opacity="0.5" stroke-width="1.25" fill="none"/>
<path d="M13.5 294.2V295.2M15.5 292.0V296.3M16.5 292.0V293.0M19.5 288.0V289.0M20.5 284.8V290.8M21.5 282.5V284.3M23.5 284.7V286.7M26.5 290.6V293.9M27.5 289.7V290.7M28.5 286.9V289.2M31.5 289.9V291.7M34.5 287.4V292.8M35.5 289.5V290.8M38.5 290.4V293.4M39.5 290.4V291.4M40.5 290.4V292.9M41.5 293.6V296.0M45.5 299.4V300.4M47.5 299.1V300.1M48.5 298.7V301.7M53.5 298.4V299.4M57.5 300.8V301.8M58.5 299.0V300.0M60.5 300.9V301.9M61.5 298.0V300.2M62.5 298.8V299.8M63.5 298.2V299.2M66.5 299.0V300.1M68.5 298.5V299.5M77.5 333.2V337.6M78.5 332.8V335.4M80.5 331.0V332.4M81.5 330.5V332.8M84.5 329.9V333.3M85.5 328.0V329.9M88.5 333.1V334.1M93.5 334.5V338.3M94.5 334.4V335.4M95.5 330.4V332.0M101.5 334.8V335.8M102.5 334.3V336.5M103.5 334.4V335.7M104.5 331.8V332.8M105.5 330.0V332.6M106.5 329.6V330.7M112.5 331.1V332.1M113.5 331.7V332.9M116.5 332.3V333.6M118.5 331.3V332.3M120.5 332.6V333.6M123.5 331.6V332.6M127.5 331.3V332.3M129.5 330.8V332.3M130.5 330.7V331.7M132.5 330.8V332.0M133.5 330.4V331.4M134.5 331.1V332.1M135.5 332.4V333.4M138.5 334.6V335.6M143.5 344.5V345.5M146.5 347.2V348.2M147.5 345.0V346.3M148.5 342.8V344.4M151.5 342.6V344.0M152.5 343.1V345.2M159.5 345.8V346.8M168.5 345.8V348.0M169.5 344.7V347.0M171.5 343.2V344.2M172.5 343.7V345.0M173.5 345.8V346.8M179.5 346.5V349.1M180.5 346.2V348.1M181.5 345.8V347.0M184.5 343.8V344.9M185.5 343.9V345.7M189.5 347.2V348.2M192.5 348.6V349.6M194.5 350.0V351.2M195.5 348.7V351.2M200.5 348.6V349.8M201.5 347.3V348.7M202.5 346.6V347.6M204.5 346.1V347.1M206.5 343.6V344.8M208.5 341.2V342.3M210.5 339.3V340.3M213.5 339.0V340.6M215.5 339.5V340.6M216.5 339.3V340.3M217.5 337.0V338.0M218.5 334.0V338.0M219.5 332.1V335.3M220.5 329.5V330.9M223.5 329.4V330.4M224.5 325.6V329.6M225.5 326.4V327.4M226.5 330.3V331.7M229.5 329.6V331.0M230.5 329.6V330.6M232.5 330.2V331.2M233.5 328.9V333.1M234.5 329.3V330.7M237.5 335.8V336.8M238.5 335.6V338.3M241.5 338.7V339.9M242.5 338.7V339.9M244.5 337.9V338.9M245.5 337.9V338.9M250.5 335.4V338.2M252.5 332.6V335.8M253.5 332.7V334.0M256.5 328.7V332.0M261.5 327.3V332.3M262.5 324.9V330.7M263.5 323.7V324.7M264.5 321.8V322.8M265.5 315.4V320.5M266.5 316.2V318.3M269.5 306.8V319.7M270.5 290.3V309.1M275.5 294.4V300.0M276.5 294.7V295.8M283.5 300.3V305.8M284.5 297.6V300.9M288.5 301.5V302.5M294.5 295.5V297.3M299.5 302.7V305.9M302.5 299.4V300.4M304.5 301.4V302.4M308.5 301.7V302.7M309.5 303.8V304.8M311.5 301.7V303.2M312.5 298.2V301.6M313.5 295.4V299.2M314.5 292.9V296.7M317.5 292.9V294.2M318.5 283.3V287.7M319.5 274.6V284.9M321.5 276.2V278.0M323.5 278.6V280.1M324.5 275.3V277.6M325.5 271.2V273.5M326.5 263.6V270.2M327.5 263.0V264.0M329.5 259.6V265.2M330.5 256.0V262.9M331.5 249.2V257.1M332.5 250.9V253.2M334.5 252.6V255.7M336.5 246.3V249.6M337.5 247.0V248.8M339.5 231.1V247.4M340.5 217.8V232.4M341.5 212.4V219.3M342.5 205.0V213.5M343.5 190.1V202.4M344.5 185.4V189.0M345.5 145.9V182.4M352.5 180.2V184.6M354.5 170.7V172.3M355.5 171.5V178.7M356.5 170.1V171.1M357.5 162.5V171.0M358.5 164.8V165.8M359.5 159.8V164.0M360.5 152.6V159.1M361.5 150.6V152.8M367.5 160.8V173.3M369.5 162.7V164.5M373.5 157.8V162.9M380.5 181.9V196.2M381.5 182.6V185.9M382.5 174.3V183.0M383.5 165.8V171.0M384.5 155.7V167.7M385.5 152.2V157.4M386.5 148.1V154.4M387.5 151.5V152.5M391.5 158.4V161.9M394.5 168.3V176.5M395.5 163.2V168.8M396.5 160.2V169.9M397.5 159.9V162.0M398.5 161.8V162.8M400.5 157.9V160.0M401.5 157.0V159.3M402.5 160.0V163.7M403.5 161.4V167.4M404.5 159.7V162.9M408.5 168.5V173.2M409.5 166.1V169.8M412.5 159.0V170.0M413.5 152.9V160.2M417.5 155.7V158.1M420.5 154.8V155.8M423.5 156.2V157.8M425.5 140.4V155.0M426.5 138.9V156.9M427.5 106.8V134.4M428.5 97.6V112.5M429.5 104.0V105.0M443.5 163.0V166.1M444.5 166.6V169.1M450.5 168.8V171.6M453.5 165.7V167.8M455.5 172.6V174.6M458.5 195.7V201.8M460.5 197.9V200.8M461.5 195.1V203.8M462.5 183.2V192.3M464.5 188.6V189.6M465.5 183.0V186.3M466.5 175.5V180.8M467.5 168.3V178.1M468.5 169.5V174.3M469.5 164.9V171.7M470.5 166.8V168.6M471.5 165.1V166.2M473.5 158.4V159.4M478.5 163.5V168.4M479.5 164.8V168.1M481.5 166.0V167.0M483.5 168.2V170.9M490.5 207.6V220.3M491.5 197.2V201.9M494.5 197.1V198.1M495.5 197.2V198.2M497.5 192.2V196.9M498.5 192.1V195.2M499.5 192.5V196.8M500.5 186.5V191.0M501.5 179.5V186.7M502.5 166.3V176.1M503.5 166.4V174.5M504.5 165.8V166.8M505.5 159.7V165.0M520.5 203.0V211.2M521.5 200.0V204.5M522.5 198.9V205.3M523.5 193.8V197.2M524.5 185.8V192.9M525.5 187.0V188.0M526.5 179.4V184.1M530.5 185.4V188.6M531.5 179.1V183.0M532.5 168.3V178.0M533.5 163.8V166.6M534.5 157.2V162.6M535.5 159.5V166.0M537.5 157.2V159.0M545.5 178.2V180.7M546.5 176.1V177.1M547.5 173.2V179.2M549.5 166.3V177.0M550.5 169.8V170.8M553.5 168.5V177.0M554.5 165.5V176.0M555.5 160.8V169.8M556.5 155.3V168.5M559.5 154.1V155.1M561.5 153.6V159.1M564.5 156.0V157.0M567.5 159.1V168.3M568.5 155.5V165.3M575.5 171.8V175.1M577.5 174.4V179.9M578.5 170.8V172.9M579.5 160.7V165.2M580.5 152.5V162.9M581.5 147.8V150.9M582.5 142.2V144.3M583.5 126.0V142.1M584.5 124.2V136.8M587.5 141.1V142.1M593.5 145.8V151.9M594.5 134.0V148.5M595.5 127.9V134.8M596.5 117.6V124.1M599.5 142.6V143.6M600.5 132.6V140.2M602.5 127.8V128.9M603.5 126.4V130.2M604.5 119.2V128.0M605.5 90.3V114.9M607.5 89.3V97.8M608.5 86.1V92.5M609.5 85.6V93.1M612.5 104.0V116.7M613.5 108.3V114.2M615.5 96.0V97.4M616.5 93.4V101.6M619.5 96.7V97.7M623.5 120.8V130.4M624.5 118.9V120.8M625.5 115.0V123.3M626.5 107.1V113.4M627.5 108.6V110.0M630.5 99.7V100.7M632.5 104.6V108.8M635.5 98.6V102.7M636.5 94.9V100.6M641.5 114.2V115.2M645.5 114.8V117.1M646.5 105.2V109.0M653.5 104.2V108.4M656.5 119.0V120.0M659.5 117.8V126.5M660.5 115.1V122.3M668.5 163.9V164.9M669.5 146.9V158.5M670.5 145.7V150.9M672.5 128.3V139.4M673.5 126.1V135.0M674.5 120.5V124.8M675.5 101.1V119.4M681.5 129.1V134.6M682.5 128.0V131.1M683.5 130.1V131.1M684.5 124.5V132.4M691.5 155.6V162.4M692.5 151.5V154.9M693.5 146.5V147.5M696.5 155.1V157.9M698.5 158.4V159.9M699.5 162.6V166.2M701.5 170.6V182.1M702.5 171.0V178.7M703.5 161.4V167.4M704.5 154.8V162.9M705.5 152.0V156.7M706.5 140.6V142.4M708.5 143.2V146.2M710.5 143.6V147.1M711.5 143.4V148.3M713.5 139.1V146.0M714.5 141.7V149.1M715.5 141.2V142.4M721.5 157.0V158.3M722.5 154.9V158.9M729.5 175.8V183.5M731.5 160.5V169.7M732.5 162.5V166.4M733.5 160.3V163.1M734.5 160.6V164.7M739.5 158.6V159.9M740.5 154.4V162.4M741.5 152.1V158.6M744.5 152.7V154.1M745.5 152.7V158.1M746.5 152.7V153.8M747.5 154.3V158.1M748.5 155.2V160.3M752.5 151.4V164.1M753.5 155.1V157.8M755.5 158.5V162.7M756.5 151.8V157.8M758.5 141.6V147.3M759.5 120.4V140.1M760.5 111.0V126.1M764.5 125.5V131.6M769.5 127.9V138.3M770.5 116.6V126.7M771.5 114.7V122.3M775.5 121.0V122.4M776.5 116.1V117.7M777.5 112.1V116.9M781.5 127.5V131.5M782.5 125.0V134.4M783.5 127.8V129.4M784.5 125.9V127.0M786.5 129.5V134.9M787.5 129.1V130.1M789.5 122.7V133.1M790.5 119.9V129.2M793.5 126.6V130.6M794.5 128.6V130.5M795.5 132.0V134.0M796.5 128.2V129.2M797.5 130.8V134.6M799.5 130.5V141.3M802.5 131.6V136.7M804.5 132.4V137.6M811.5 130.1V131.9M812.5 128.3V131.9M815.5 129.5V130.6M816.5 126.9V130.8M817.5 120.8V127.4M818.5 122.4V124.7M819.5 117.8V118.8M820.5 106.8V119.9M821.5 110.9V115.2M822.5 106.5V110.3M825.5 101.3V111.5M826.5 87.9V98.2M827.5 87.9V88.9M829.5 82.0V100.2M830.5 84.4V85.8" stroke="#089981" stroke-width="1.45" fill="none"/>
<path d="M11.5 296.0V298.6M12.5 295.8V297.0M14.5 295.7V296.7M17.5 292.5V294.7M18.5 291.0V292.4M22.5 281.1V282.1M24.5 287.2V290.2M25.5 293.0V294.0M29.5 288.8V289.8M30.5 288.3V289.9M32.5 290.9V293.2M33.5 292.9V293.9M36.5 287.0V292.1M37.5 287.8V290.3M42.5 292.5V297.9M43.5 296.0V299.3M44.5 295.3V297.9M46.5 299.8V300.8M49.5 298.9V299.9M50.5 297.8V298.8M51.5 298.6V299.6M52.5 299.6V300.6M54.5 298.7V300.7M55.5 299.3V300.7M56.5 298.8V299.8M59.5 299.3V301.5M64.5 296.9V299.5M65.5 298.8V300.6M67.5 300.7V301.7M69.5 299.7V307.2M70.5 305.6V313.8M71.5 316.2V317.2M72.5 317.3V319.6M73.5 319.0V325.9M74.5 323.4V328.5M75.5 328.7V333.5M76.5 332.0V336.6M79.5 332.5V334.7M82.5 331.6V332.6M83.5 330.2V332.7M86.5 329.3V333.5M87.5 328.7V332.5M89.5 332.4V335.2M90.5 335.6V336.6M91.5 335.6V338.6M92.5 335.6V336.7M96.5 330.7V331.7M97.5 330.8V332.7M98.5 329.5V331.6M99.5 331.8V333.7M100.5 332.1V336.5M107.5 327.1V328.1M108.5 327.1V328.1M109.5 325.3V329.7M110.5 329.3V330.5M111.5 329.4V330.4M114.5 332.9V333.9M115.5 332.8V334.3M117.5 332.3V334.3M119.5 331.5V333.0M121.5 330.9V331.9M122.5 332.0V333.0M124.5 331.3V332.5M125.5 331.1V332.1M126.5 330.8V331.8M128.5 332.2V333.2M131.5 331.8V332.8M136.5 332.9V336.0M137.5 332.4V333.4M139.5 335.0V336.0M140.5 335.9V339.5M141.5 338.0V342.4M142.5 340.7V343.1M144.5 343.5V345.5M145.5 347.3V349.2M149.5 343.6V344.6M150.5 344.8V345.8M153.5 342.6V343.6M154.5 343.0V344.0M155.5 344.5V345.5M156.5 345.8V346.8M157.5 345.4V346.9M158.5 345.0V346.0M160.5 346.1V347.1M161.5 345.3V346.3M162.5 343.9V344.9M163.5 345.0V349.5M164.5 346.8V347.9M165.5 347.3V348.3M166.5 349.3V350.3M167.5 348.1V349.1M170.5 345.2V346.2M174.5 343.7V345.4M175.5 345.8V346.8M176.5 347.4V348.4M177.5 347.4V348.6M178.5 347.6V348.9M182.5 345.7V346.7M183.5 346.1V347.1M186.5 343.5V344.5M187.5 344.5V345.5M188.5 345.8V346.8M190.5 346.0V347.0M191.5 346.9V347.9M193.5 348.4V349.4M196.5 349.0V350.4M197.5 349.7V350.7M198.5 349.3V350.3M199.5 348.7V349.8M203.5 346.7V347.7M205.5 345.2V346.3M207.5 338.1V339.1M209.5 339.0V340.3M211.5 339.4V341.3M212.5 340.0V341.0M214.5 339.7V340.7M221.5 329.2V330.2M222.5 326.9V329.6M227.5 329.2V330.8M228.5 331.1V332.1M231.5 330.5V331.5M235.5 329.5V330.5M236.5 331.1V334.3M239.5 336.8V337.8M240.5 338.4V339.9M243.5 339.4V340.4M246.5 337.0V338.0M247.5 337.8V339.2M248.5 338.8V339.8M249.5 336.7V337.7M251.5 336.2V337.9M254.5 331.7V332.7M255.5 331.8V332.8M257.5 326.6V328.0M258.5 327.3V328.9M259.5 329.1V330.2M260.5 329.5V332.4M267.5 318.5V319.9M268.5 320.3V321.3M271.5 290.0V295.8M272.5 291.2V294.8M273.5 297.5V298.5M274.5 297.0V299.0M277.5 294.3V295.8M278.5 292.9V295.7M279.5 296.0V297.0M280.5 296.4V299.9M281.5 300.4V303.6M282.5 302.1V303.4M285.5 301.3V303.8M286.5 303.0V304.9M287.5 302.3V303.8M289.5 299.8V300.8M290.5 296.2V297.2M291.5 295.1V296.5M292.5 298.2V299.2M293.5 297.9V298.9M295.5 292.7V300.1M296.5 295.5V298.9M297.5 300.1V302.6M298.5 303.4V304.4M300.5 301.1V302.8M301.5 301.6V302.6M303.5 298.5V299.5M305.5 301.3V304.6M306.5 302.1V303.1M307.5 304.1V305.1M310.5 302.7V303.7M315.5 291.5V294.2M316.5 294.2V295.2M320.5 274.6V275.9M322.5 275.3V280.5M328.5 265.4V266.4M333.5 248.0V254.4M335.5 251.2V252.2M338.5 244.1V249.2M346.5 139.7V153.5M347.5 151.5V159.3M348.5 160.3V165.6M349.5 162.1V170.5M350.5 173.8V178.8M351.5 174.9V180.4M353.5 179.5V182.0M362.5 148.1V152.3M363.5 156.3V158.2M364.5 156.8V168.9M365.5 169.8V172.1M366.5 169.5V173.5M368.5 163.6V165.1M370.5 164.8V166.6M371.5 167.2V168.2M372.5 166.3V167.3M374.5 157.5V161.7M375.5 154.3V158.9M376.5 162.8V164.2M377.5 167.9V177.3M378.5 173.4V182.3M379.5 184.6V185.9M388.5 149.1V153.7M389.5 152.0V158.7M390.5 159.9V164.3M392.5 159.6V172.0M393.5 172.9V181.1M399.5 159.8V163.0M405.5 159.1V166.4M406.5 161.7V172.1M407.5 170.9V171.9M410.5 165.9V169.9M411.5 166.2V169.9M414.5 147.6V154.6M415.5 150.7V160.4M416.5 156.9V161.1M418.5 154.2V155.2M419.5 154.7V156.8M421.5 156.3V161.1M422.5 158.8V161.1M424.5 148.9V157.7M430.5 104.1V116.1M431.5 113.9V125.6M432.5 121.6V133.0M433.5 140.1V141.9M434.5 146.6V147.6M435.5 152.0V155.7M436.5 156.5V158.2M437.5 152.0V153.0M438.5 155.9V158.6M439.5 155.8V160.2M440.5 154.4V160.2M441.5 154.8V157.3M442.5 158.5V159.5M445.5 165.6V171.7M446.5 164.0V172.5M447.5 163.0V170.8M448.5 171.3V172.3M449.5 168.7V172.1M451.5 169.0V171.4M452.5 165.7V171.6M454.5 168.5V170.8M456.5 182.4V192.8M457.5 186.3V199.7M459.5 197.2V203.0M463.5 188.6V190.9M472.5 159.4V160.4M474.5 154.9V161.1M475.5 163.4V165.3M476.5 163.5V169.9M477.5 167.4V169.1M480.5 163.0V164.0M482.5 164.0V170.3M484.5 168.5V181.2M485.5 177.7V190.6M486.5 185.8V197.0M487.5 198.7V208.7M488.5 207.7V215.9M489.5 213.0V217.9M492.5 199.0V200.0M493.5 196.8V199.4M496.5 198.9V199.9M506.5 159.7V161.8M507.5 162.4V176.3M508.5 170.2V179.7M509.5 180.9V186.6M510.5 180.1V188.1M511.5 182.8V188.3M512.5 191.3V192.3M513.5 189.9V193.8M514.5 188.7V191.8M515.5 194.9V195.9M516.5 200.2V201.2M517.5 201.2V208.7M518.5 208.9V210.7M519.5 205.6V210.3M527.5 178.9V179.9M528.5 180.5V190.1M529.5 184.8V189.8M536.5 157.4V159.0M538.5 159.3V163.1M539.5 154.6V155.6M540.5 154.9V160.1M541.5 161.4V164.3M542.5 168.9V170.2M543.5 172.6V175.8M544.5 177.9V182.3M548.5 171.5V174.5M551.5 166.4V169.0M552.5 168.5V173.6M557.5 161.2V162.2M558.5 159.3V160.4M560.5 158.2V159.5M562.5 156.1V157.9M563.5 155.0V159.5M565.5 165.2V166.4M566.5 159.7V168.3M569.5 158.9V160.2M570.5 155.2V157.2M571.5 155.5V161.4M572.5 162.3V170.9M573.5 164.0V174.0M574.5 170.0V171.0M576.5 173.9V179.2M585.5 128.0V137.5M586.5 139.4V142.6M588.5 135.8V143.5M589.5 145.9V146.9M590.5 144.1V147.1M591.5 148.0V152.5M592.5 147.3V151.9M597.5 122.8V134.7M598.5 124.3V139.9M601.5 130.2V131.2M606.5 86.6V94.3M610.5 88.2V102.9M611.5 91.0V117.3M614.5 103.5V104.5M617.5 93.2V97.3M618.5 98.2V99.2M620.5 98.1V105.7M621.5 111.7V131.8M622.5 123.5V132.7M628.5 102.6V106.0M629.5 99.2V100.7M631.5 100.6V103.0M633.5 103.5V104.5M634.5 106.1V107.1M637.5 89.6V95.9M638.5 97.0V103.0M639.5 104.4V109.6M640.5 104.2V112.8M642.5 112.1V113.6M643.5 111.6V112.6M644.5 107.3V115.3M647.5 105.1V107.5M648.5 98.4V103.2M649.5 97.6V100.6M650.5 99.3V110.2M651.5 103.6V116.6M652.5 106.9V112.9M654.5 108.7V117.0M655.5 113.0V114.0M657.5 116.7V119.2M658.5 123.3V130.8M661.5 120.7V123.3M662.5 119.7V121.3M663.5 120.3V123.6M664.5 128.1V148.6M665.5 152.7V160.4M666.5 161.7V174.2M667.5 164.4V165.8M671.5 139.3V140.3M676.5 106.6V113.4M677.5 113.4V120.6M678.5 116.4V117.4M679.5 119.4V130.5M680.5 123.9V133.3M685.5 121.9V135.0M686.5 130.5V152.3M687.5 146.2V149.8M688.5 150.3V155.8M689.5 152.1V161.1M690.5 156.2V164.7M694.5 146.0V155.6M695.5 156.2V163.2M697.5 155.9V159.4M700.5 166.7V172.4M707.5 139.5V140.5M709.5 143.2V144.2M712.5 139.6V143.5M716.5 139.7V144.8M717.5 139.9V142.2M718.5 142.6V148.6M719.5 149.4V151.5M720.5 153.7V159.0M723.5 155.0V156.3M724.5 161.8V163.4M725.5 162.8V166.9M726.5 165.9V173.5M727.5 173.4V181.1M728.5 176.1V177.5M730.5 167.4V170.5M735.5 165.9V167.0M736.5 166.5V167.5M737.5 161.4V162.4M738.5 159.9V161.2M742.5 149.3V159.1M743.5 155.0V158.8M749.5 157.1V158.1M750.5 155.4V156.4M751.5 155.1V162.2M754.5 154.4V159.0M757.5 147.7V150.4M761.5 120.3V121.3M762.5 120.0V122.0M763.5 127.8V129.9M765.5 128.9V129.9M766.5 128.7V135.2M767.5 132.7V136.2M768.5 135.6V136.6M772.5 117.2V120.2M773.5 117.1V119.7M774.5 125.1V128.2M778.5 111.2V116.9M779.5 114.0V120.7M780.5 120.9V131.9M785.5 127.9V130.7M788.5 132.5V133.5M791.5 126.1V128.9M792.5 125.6V134.1M798.5 128.6V132.5M800.5 134.2V140.4M801.5 136.2V141.9M803.5 137.1V138.1M805.5 135.7V136.7M806.5 133.5V136.2M807.5 132.8V135.3M808.5 129.8V131.3M809.5 125.9V126.9M810.5 129.6V131.0M813.5 125.3V131.9M814.5 130.3V131.3M823.5 108.5V109.5M824.5 108.9V116.3M828.5 89.3V91.0" stroke="#f23645" stroke-width="1.45" fill="none"/>
<line x1="726.3" y1="197" x2="833.3" y2="139.1" stroke="#14521a" stroke-width="3" stroke-linecap="round"/>
<g><circle cx="829.6" cy="367.9" r="9.6" fill="none" stroke="#9c27b0" stroke-width="1.5"/><path d="M832.8 362.9L825.0 368.5L829.6 368.4L826.3 373.5L834.2 367.4L829.7 367.5Z" fill="#9c27b0" stroke="#9c27b0" stroke-width="0.7" stroke-linejoin="round"/></g>
<polyline points="10.6,469.6 13.0,468.7 16.0,469.6 19.0,464.2 22.5,457.0 25.0,462.4 28.0,466.0 31.0,469.6 34.0,471.4 37.0,474.1 40.0,477.3 42.5,476.8 45.0,473.2 47.0,471.4 50.0,473.2 54.0,473.7 58.0,473.2 61.0,474.1 64.0,475.9 67.0,477.3 68.5,477.7 70.0,467.8 72.0,453.4 74.0,439.0 76.0,430.0 78.0,425.5 80.0,424.6 82.5,425.5 85.0,429.1 88.0,430.9 91.0,430.0 93.0,429.1 95.0,433.6 97.0,440.8 99.0,447.1 101.0,451.6 103.0,456.1 105.0,461.5 107.0,462.4 109.0,462.0 111.0,466.0 113.5,469.6 116.0,473.2 119.0,476.8 122.0,480.4 124.0,481.7 127.0,481.0 130.0,478.6 132.5,476.8 135.0,479.5 137.5,482.8 139.5,479.5 141.0,469.6 143.0,457.0 145.0,447.1 147.0,443.5 149.0,441.7 151.0,439.9 152.5,446.2 154.0,450.7 156.0,453.4 158.0,456.1 160.5,460.6 163.0,464.2 166.0,463.3 168.5,464.2 171.0,467.8 173.5,470.5 176.0,471.0 178.5,469.6 181.0,472.3 184.0,475.6 186.5,475.0 189.0,476.4 191.5,477.7 194.0,473.2 196.5,468.7 198.5,467.8 200.0,468.7 202.5,468.2 205.0,463.3 207.0,455.2 209.0,446.2 211.0,439.0 213.0,434.5 215.0,431.4 217.0,428.2 219.0,421.0 221.0,414.7 223.0,408.4 225.0,405.7 226.5,406.2 228.0,410.2 230.0,415.6 232.0,421.0 233.5,421.9 235.0,427.3 237.0,431.8 239.0,437.2 241.0,444.4 243.0,453.4 245.0,458.8 247.0,462.4 249.0,463.7 251.0,463.3 253.0,459.2 255.0,458.8 257.0,460.6 259.0,465.1 261.0,466.9 263.0,464.2 265.0,460.6 267.0,457.9 268.5,451.6 270.0,445.3 272.0,439.9 274.0,437.2 276.0,433.6 278.0,429.6 280.0,428.7 282.0,431.4 284.0,437.2 286.0,444.4 288.0,448.9 290.0,452.5 292.0,456.1 294.0,458.8 296.0,461.5 298.0,464.2 300.0,466.9 302.0,470.5 304.0,474.1 306.0,477.7 308.0,480.4 310.0,481.0 312.0,475.0 314.0,466.0 316.0,457.0 318.0,448.0 320.0,439.9 322.0,432.7 324.0,425.5 326.0,419.2 328.0,413.8 330.0,408.4 332.0,403.0 334.0,396.7 336.0,394.0 337.0,396.7 338.0,404.8 340.0,410.2 341.5,413.3 343.0,412.0 345.0,407.5 347.0,405.3 349.0,406.2 350.5,411.1 352.0,417.4 354.0,422.8 356.0,426.4 358.0,429.1 360.0,430.0 362.0,429.6 364.0,435.4 366.0,440.8 368.0,445.3 370.0,448.9 372.0,451.6 374.0,453.0 376.0,456.1 378.0,458.8 380.0,461.5 382.0,464.2 384.0,466.9 386.0,468.7 388.0,470.5 390.0,473.2 392.0,474.1 394.0,472.3 396.0,475.0 398.0,477.7 400.0,480.4 402.0,483.1 404.0,484.0 406.0,482.2 408.0,480.4 410.0,479.5 412.0,478.2 414.0,480.4 416.0,483.1 418.0,484.9 420.0,485.8 422.0,486.7 424.0,487.6 425.5,482.2 427.0,473.2 428.5,467.8 430.0,465.1 432.0,464.2 434.0,466.9 436.0,468.7 438.0,470.5 440.0,469.6 442.0,466.9 444.0,464.2 446.0,460.6 448.0,457.0 450.0,454.8 451.5,456.1 453.0,458.8 454.5,451.6 456.0,444.4 458.0,438.1 460.0,433.6 462.0,432.2 464.0,432.2 465.5,433.6 467.0,440.8 469.0,448.0 471.0,453.4 473.0,457.0 475.0,461.5 477.0,465.1 479.0,468.7 481.0,471.4 483.0,474.1 484.5,473.2 486.0,466.0 487.5,455.2 489.0,451.6 491.0,448.9 493.0,448.0 495.0,448.5 497.0,449.4 499.0,454.3 501.0,458.8 503.0,462.4 505.0,464.2 507.0,466.0 509.0,466.9 511.0,466.0 513.0,463.3 515.0,460.6 517.0,455.2 519.0,450.7 521.0,448.5 522.5,449.4 524.0,453.4 526.0,458.8 528.0,463.3 530.0,466.9 532.0,469.2 534.0,468.7 536.0,466.9 538.0,467.4 540.0,468.2 542.0,468.7 544.0,466.9 546.0,467.8 548.0,470.5 550.0,474.1 552.0,476.8 554.0,478.6 556.0,479.5 558.0,479.5 560.0,478.6 562.0,478.2 564.0,479.5 566.0,480.4 568.0,479.5 570.0,480.4 572.0,479.5 574.0,477.7 576.0,473.2 578.0,473.2 580.0,474.1 581.5,469.6 583.0,465.1 585.0,461.5 587.0,457.0 589.0,454.3 591.0,453.0 593.0,450.7 594.5,445.3 596.0,442.2 598.0,443.5 600.0,443.5 602.0,443.0 604.0,440.8 606.0,438.1 608.0,436.3 609.5,435.9 611.0,440.8 613.0,447.1 615.0,451.6 617.0,455.2 619.0,457.9 621.0,460.6 623.0,462.0 625.0,464.2 627.0,468.7 629.0,473.2 631.0,476.4 633.0,478.6 635.0,479.5 637.0,478.6 639.0,480.4 641.0,482.6 643.0,484.0 645.0,482.7 647.0,484.0 649.0,484.5 651.0,483.1 653.0,481.3 655.0,479.5 657.0,475.9 659.0,470.5 661.0,465.1 663.0,460.6 664.5,451.6 666.0,442.6 667.5,434.5 669.0,430.9 670.5,431.4 672.0,433.6 673.5,439.0 675.0,442.6 677.0,446.2 679.0,448.9 681.0,454.3 683.0,459.7 685.0,463.8 687.0,464.2 689.0,463.3 691.0,461.5 693.0,460.6 695.0,459.7 697.0,458.8 698.5,456.1 700.0,452.5 701.5,450.3 703.0,451.6 704.5,455.2 706.0,459.7 708.0,465.1 710.0,469.6 712.0,473.2 714.0,475.9 716.0,478.2 718.0,479.9 720.0,480.4 722.0,479.5 724.0,476.8 726.0,469.6 727.5,464.2 729.0,461.5 731.0,460.6 733.0,460.6 735.0,460.2 737.0,461.5 739.0,463.3 741.0,466.9 743.0,470.5 745.0,474.1 747.0,476.8 749.0,479.5 751.0,481.3 752.5,481.7 754.0,480.4 756.0,479.5 757.5,476.8 759.0,469.6 760.5,462.4 762.0,456.1 764.0,451.6 766.0,448.0 768.0,445.3 770.0,441.2 772.0,440.8 774.0,439.9 776.0,437.7 777.5,437.2 779.0,442.6 781.0,448.0 783.0,451.6 785.0,455.2 787.0,460.6 789.0,465.1 791.0,467.8 793.0,468.7 795.0,470.5 797.0,471.4 799.0,472.3 800.5,469.6 802.0,466.5 804.0,466.0 806.0,466.0 808.0,466.9 810.0,468.7 812.0,471.4 814.0,475.0 816.0,478.6 817.5,478.6 819.0,474.1 820.5,469.6 822.0,466.0 823.5,463.3 825.0,458.8 826.5,452.5 828.0,445.3 829.5,439.0" fill="none" stroke="#131722" stroke-width="2.1" stroke-linejoin="round" stroke-linecap="butt"/>
<polyline points="10.6,471.4 12.0,473.2 13.5,469.6 15.0,453.4 16.0,455.2 17.5,448.0 19.0,442.6 20.5,437.2 22.0,444.4 23.5,455.2 25.0,458.8 26.5,456.1 28.0,457.0 29.5,464.2 31.0,469.6 32.5,462.4 33.5,456.1 35.0,460.6 37.0,462.4 39.0,464.2 41.0,467.8 43.0,473.2 45.0,471.4 47.0,469.6 48.5,466.0 50.0,470.5 52.0,473.2 54.0,471.4 56.0,474.1 58.0,469.6 60.0,472.3 61.5,466.0 63.0,462.4 65.0,466.9 67.0,468.7 68.5,471.4 70.0,480.4 72.0,484.9 74.0,489.4 75.0,491.2 76.5,484.9 78.0,478.6 79.5,479.5 81.0,475.0 82.5,476.8 84.0,469.6 85.5,474.1 87.0,477.7 88.5,476.8 90.0,480.4 92.0,483.1 94.0,475.0 95.0,471.4 96.5,464.2 98.0,462.4 99.5,466.0 101.0,469.6 102.5,467.8 104.0,462.4 105.5,457.9 107.0,456.1 108.5,458.8 110.0,462.4 112.0,466.0 114.0,467.8 116.0,466.0 118.0,467.8 120.0,468.7 122.0,466.9 124.0,466.0 125.5,469.6 127.0,470.5 129.0,467.8 131.0,466.0 132.5,464.2 134.0,467.8 136.0,469.6 137.5,471.4 139.0,476.8 141.0,481.3 143.0,484.9 145.0,487.6 146.5,482.2 147.5,474.1 149.0,477.7 150.5,475.0 151.5,466.0 153.0,457.0 154.5,460.6 156.0,464.2 158.0,465.1 160.0,464.2 162.0,466.0 164.0,469.6 166.0,472.3 168.0,469.6 170.0,466.0 171.5,462.4 173.0,466.9 175.0,469.6 177.0,471.4 178.5,474.1 180.0,467.8 182.0,464.2 184.0,461.5 185.5,459.7 187.0,462.4 189.0,466.0 191.0,469.6 193.0,473.2 194.5,477.7 196.0,478.6 197.0,478.6 198.0,464.2 199.5,453.4 201.0,458.8 202.5,451.6 204.0,453.4 205.5,439.0 207.0,429.1 208.5,433.6 210.0,442.6 211.5,448.0 213.0,451.6 214.5,454.3 216.0,449.8 217.5,437.2 219.0,429.1 220.5,438.1 222.0,436.3 223.5,442.6 225.0,448.0 226.5,455.2 228.0,457.0 229.5,460.6 231.0,463.3 232.0,464.2 233.0,445.3 234.0,457.0 235.5,462.4 237.0,464.2 239.0,466.9 241.0,469.6 243.0,470.5 245.0,472.3 246.5,466.9 248.0,467.8 249.5,470.5 251.0,464.2 252.5,458.8 254.0,466.0 255.0,458.8 256.5,462.4 258.0,466.0 259.5,471.4 260.5,464.2 262.0,449.8 263.5,440.8 265.0,444.4 266.5,450.7 267.5,452.5 268.5,435.4 269.5,419.2 270.5,416.0 271.5,422.8 273.0,430.0 274.5,435.4 276.0,439.0 277.5,442.6 279.0,447.1 280.5,451.6 282.0,455.2 283.5,460.6 285.0,458.8 286.5,464.2 288.0,456.1 289.5,458.8 291.0,461.5 292.5,462.4 294.0,458.8 295.5,464.2 297.0,469.6 298.5,466.0 300.0,462.4 301.5,464.2 303.0,461.5 304.5,463.3 306.0,462.4 307.5,464.2 309.0,462.4 310.5,448.0 312.0,442.6 313.5,446.2 315.0,448.0 316.5,444.4 317.5,428.2 318.5,421.0 320.0,431.8 321.5,439.0 322.5,441.7 324.0,430.0 325.0,427.3 326.5,433.6 328.0,439.9 329.5,431.8 331.0,427.3 332.5,437.2 334.0,436.3 335.5,440.8 337.0,439.0 338.0,457.0 339.0,439.0 340.5,437.2 342.0,426.4 343.5,430.0 345.0,412.0 346.0,416.5 347.0,431.8 348.5,440.8 350.0,451.6 351.5,460.6 353.0,457.9 354.5,459.7 356.0,455.2 357.5,458.8 359.0,456.1 360.5,451.6 362.0,454.3 363.5,457.9 365.0,462.4 366.5,455.2 368.0,457.0 369.5,459.7 371.0,457.0 372.5,460.6 373.5,453.4 375.0,462.4 376.5,469.6 378.0,467.8 379.5,471.4 381.0,469.6 382.5,466.0 384.0,462.4 385.5,456.1 387.0,458.8 388.5,462.4 390.0,461.5 391.5,466.0 393.0,471.4 394.5,466.0 396.0,463.3 397.5,464.2 399.0,465.1 400.5,462.4 402.0,464.2 403.5,466.0 405.0,469.6 406.5,472.3 408.0,475.0 409.5,473.2 411.0,464.2 412.0,454.3 413.5,458.8 415.0,464.2 416.5,462.4 418.0,461.5 419.5,464.2 421.0,466.0 422.5,466.9 424.0,457.0 425.0,439.0 426.5,422.8 427.5,420.1 428.5,426.4 429.5,435.4 431.0,439.0 432.5,448.0 434.0,456.1 435.5,458.8 437.0,462.4 438.5,464.2 440.0,467.8 441.5,471.4 443.0,472.3 444.5,475.0 446.0,476.8 447.5,475.9 449.0,478.6 450.5,476.8 452.0,472.3 453.5,475.0 455.0,480.4 456.5,483.1 457.5,478.6 459.0,483.1 460.5,482.2 462.0,475.0 463.5,475.9 465.0,464.2 466.0,457.0 467.5,462.4 469.0,460.6 470.5,457.9 472.0,459.7 473.5,458.8 475.0,462.4 476.5,464.2 478.0,466.0 479.5,460.6 481.0,457.9 482.5,462.4 484.0,467.8 485.5,473.2 487.0,480.4 488.0,482.2 489.5,476.8 491.0,475.0 492.5,471.4 494.0,473.2 495.5,471.4 497.0,474.1 498.5,466.0 500.0,462.4 501.5,458.8 503.0,454.3 504.5,455.2 506.0,460.6 507.5,464.2 509.0,466.9 510.5,469.6 512.0,471.4 513.5,475.0 515.0,473.2 516.5,476.8 518.0,478.6 519.0,480.4 520.5,475.0 522.0,469.6 523.5,466.0 525.0,460.6 526.5,457.0 528.0,460.6 529.5,464.2 531.0,457.0 532.5,453.4 534.0,448.9 535.0,446.6 536.5,455.2 538.0,457.0 539.5,458.8 541.0,467.8 542.5,470.5 544.0,472.3 545.5,469.6 547.0,464.2 548.5,462.4 550.0,465.1 551.5,464.2 553.0,462.4 554.5,458.8 556.0,457.9 557.5,460.6 559.0,462.4 560.5,461.5 562.0,463.3 563.5,467.8 565.0,471.4 566.5,467.8 568.0,464.2 569.5,459.7 570.5,457.9 572.0,464.2 573.5,467.8 575.0,471.4 576.5,473.2 577.5,464.2 578.5,453.4 580.0,446.2 581.5,441.7 583.0,448.0 584.5,454.3 586.0,451.6 587.5,453.4 589.0,452.5 590.5,456.0 592.5,455.2 593.5,446.2 594.5,443.5 596.0,451.6 597.5,458.8 598.5,461.5 600.0,457.0 601.5,456.1 603.0,460.6 604.0,446.2 605.0,436.3 606.0,438.1 607.5,442.6 609.0,448.0 610.5,457.0 612.0,458.8 613.5,457.9 615.0,459.7 616.5,461.5 618.0,460.6 619.5,466.0 621.0,470.5 622.5,467.8 624.0,469.6 625.5,464.2 627.0,465.1 628.5,466.0 630.0,466.9 631.5,467.8 633.0,466.9 634.5,467.8 636.0,462.4 637.0,457.0 638.5,462.4 640.0,466.0 641.5,469.6 643.0,468.7 644.5,473.2 646.0,469.6 647.5,466.0 649.0,467.8 650.5,473.2 652.0,475.0 653.5,473.2 655.0,475.9 656.5,477.7 658.0,480.4 659.5,481.3 661.0,479.5 662.0,478.6 663.5,483.1 665.0,487.6 666.5,489.4 668.0,487.6 669.0,482.2 670.0,478.6 671.5,471.4 673.0,467.8 674.0,457.0 675.0,448.9 676.5,450.7 678.0,451.6 679.5,455.2 681.0,458.8 682.5,462.4 684.0,464.2 685.5,467.8 687.0,471.4 688.5,474.1 690.0,475.0 691.5,467.8 693.0,473.2 694.5,467.8 696.0,469.6 697.5,473.2 699.0,476.8 700.5,478.6 702.0,471.4 703.0,464.2 704.5,457.0 706.0,455.2 707.5,457.9 709.0,460.6 710.5,458.8 712.0,459.7 713.5,457.9 715.0,460.6 716.5,462.4 718.0,465.1 719.5,467.8 721.0,466.0 722.5,471.4 724.0,475.0 725.5,479.5 727.0,480.4 728.5,475.0 730.0,473.2 731.5,469.6 733.0,471.4 734.5,473.2 736.0,470.5 737.5,471.4 739.0,469.6 740.5,460.6 741.5,458.8 743.0,462.4 744.5,464.2 746.0,466.9 747.5,467.8 749.0,469.6 750.5,471.4 752.0,474.1 753.5,475.9 755.0,473.2 756.0,462.4 757.0,446.2 758.0,436.3 759.5,439.0 760.5,436.3 762.0,442.6 763.5,448.0 765.0,450.7 766.5,453.4 768.0,457.9 769.5,449.8 770.5,443.5 772.0,449.8 773.5,456.1 775.0,447.1 776.5,449.8 778.0,453.4 779.5,457.0 781.0,459.7 782.5,458.8 784.0,460.6 785.0,466.0 786.5,468.7 788.0,467.8 789.0,464.2 790.5,466.0 792.0,468.7 793.5,470.5 795.0,469.6 796.5,471.4 798.0,472.3 799.5,473.2 801.0,477.7 802.5,475.0 804.0,470.5 805.5,472.3 807.0,469.6 808.5,466.9 810.0,468.7 811.5,466.9 813.0,469.6 814.0,471.4 815.0,466.0 816.0,460.6 817.0,453.4 818.0,446.2 819.0,443.5 820.0,448.0 821.0,450.7 822.0,446.2 823.0,444.4 824.0,437.2 825.0,430.0 826.0,419.2 827.0,425.5 828.0,422.8 829.0,425.5 829.5,423.7" fill="none" stroke="#2962ff" stroke-width="1.15" stroke-linejoin="round"/>
<polyline points="10.6,457.0 12.0,457.9 13.5,462.4 15.0,466.0 16.5,467.8 18.0,471.4 20.0,476.8 22.0,479.9 23.0,475.0 24.0,464.2 25.5,466.0 27.0,470.5 28.5,472.3 30.0,469.6 31.5,464.2 33.0,466.0 34.5,468.7 36.0,466.9 38.0,468.7 40.0,466.0 41.0,459.7 42.5,457.0 44.0,455.2 45.5,454.0 47.0,457.0 48.5,460.6 50.0,459.7 52.0,462.4 54.0,463.3 56.0,461.5 58.0,458.4 59.5,462.4 61.0,465.1 62.5,468.7 64.0,458.8 66.0,460.6 67.5,461.5 68.5,439.0 69.5,421.0 71.0,427.3 72.0,422.8 73.5,414.7 74.5,417.4 75.5,412.5 76.5,421.0 77.5,430.0 79.0,435.4 80.5,442.6 82.0,440.8 83.5,447.1 85.0,448.9 86.5,451.6 88.0,452.5 89.5,454.3 91.0,448.9 92.5,452.5 94.0,457.0 95.5,460.6 97.0,464.2 98.5,457.0 100.0,458.8 101.5,464.2 103.0,467.8 104.5,465.1 106.0,471.4 107.5,474.1 109.0,471.4 110.5,466.0 112.0,466.9 113.5,468.7 115.0,466.0 117.0,463.3 118.5,468.7 120.0,471.4 122.0,473.2 124.0,475.0 126.0,476.8 128.0,478.6 130.0,479.5 132.0,475.0 134.0,471.4 135.5,469.6 137.0,464.2 138.5,448.0 140.0,428.2 141.5,438.1 143.0,433.6 144.5,427.3 146.0,431.8 147.5,437.2 149.0,439.9 150.5,444.4 152.0,451.6 153.0,458.8 154.5,448.0 156.0,448.9 157.5,451.6 159.0,454.3 160.5,457.0 162.0,462.4 163.5,449.8 164.5,445.3 166.0,453.4 167.5,457.0 169.0,459.7 170.5,464.2 172.0,467.8 173.5,460.6 175.0,457.0 176.5,458.8 177.5,453.4 179.0,456.1 180.5,464.2 182.0,467.8 183.5,470.5 185.0,473.2 186.5,472.3 188.0,473.2 189.5,471.4 191.0,475.0 192.0,464.2 193.0,455.2 194.5,458.8 196.0,457.5 197.0,459.0 198.0,464.2 200.0,469.6 202.0,471.4 204.0,475.0 206.0,480.4 208.0,484.0 210.0,483.1 212.0,484.9 214.0,484.0 216.0,483.1 218.0,485.8 220.0,488.5 222.0,491.2 223.0,492.5 224.5,487.6 226.0,480.4 227.5,476.8 229.0,478.6 230.5,476.8 232.0,480.4 233.0,483.1 234.5,475.9 236.0,473.2 237.5,476.8 239.0,471.4 240.5,469.6 242.0,471.4 243.5,473.2 245.0,471.4 246.5,474.1 248.0,476.8 250.0,479.5 252.0,483.1 253.5,476.8 255.0,473.2 256.5,476.8 258.0,471.4 259.5,469.6 260.5,461.5 262.0,467.8 263.5,473.2 265.0,475.0 266.5,473.2 268.0,476.8 269.5,484.9 271.0,476.8 272.5,475.9 274.0,480.4 275.5,478.6 277.0,483.1 278.5,480.4 280.0,475.0 281.5,472.3 283.0,473.2 284.5,467.8 286.0,469.6 287.5,473.2 289.0,470.5 290.5,468.7 292.0,471.4 293.5,469.6 294.5,462.4 296.0,455.2 297.5,457.0 299.0,458.8 300.5,461.5 302.0,463.3 303.5,458.8 305.0,457.9 306.5,459.7 308.0,462.4 309.5,464.2 311.0,467.8 312.5,473.2 314.0,476.8 315.5,480.4 317.0,484.0 318.5,487.6 320.0,485.8 321.5,488.5 323.0,489.4 324.5,490.3 326.0,487.6 327.5,489.4 329.0,491.2 330.5,492.5 332.0,492.1 333.5,492.1 335.0,491.2 336.0,489.4 337.0,471.4 337.5,457.0 338.5,464.2 340.0,471.4 341.5,475.0 343.0,478.6 344.5,484.0 346.0,487.6 347.5,483.1 349.0,480.4 350.0,469.6 351.5,472.3 353.0,475.0 354.5,476.8 356.0,478.6 357.5,476.8 359.0,478.6 360.5,480.4 362.0,481.3 363.5,471.4 364.5,464.2 366.0,466.9 367.5,469.6 369.0,470.5 370.5,471.4 372.0,475.0 373.5,470.5 374.5,453.4 376.0,455.2 377.5,457.0 379.0,455.2 380.5,460.6 382.0,464.2 383.5,466.0 385.0,467.8 386.5,469.6 388.0,467.8 389.5,464.2 390.5,462.0 391.5,457.0 393.0,450.7 394.5,454.3 396.0,458.8 398.0,460.6 400.0,462.4 402.0,463.3 403.5,464.2 405.0,456.1 406.5,458.8 408.0,462.4 409.5,466.0 411.0,469.6 412.5,473.2 413.5,466.0 415.0,462.4 416.5,464.2 418.0,462.4 419.5,463.3 421.0,461.5 422.5,464.2 424.0,471.4 425.5,475.0 427.0,478.6 428.0,481.3 429.5,471.4 431.0,462.4 432.0,448.0 433.0,441.7 434.5,448.0 436.0,450.7 437.5,452.5 439.0,451.6 440.5,448.0 442.0,453.4 443.5,450.7 445.0,444.4 446.5,447.1 448.0,451.6 449.5,454.3 451.0,457.0 452.5,459.7 453.5,455.2 454.5,439.0 455.5,421.0 456.5,415.6 457.5,424.6 459.0,429.1 460.5,433.6 462.0,439.0 463.5,442.6 465.0,448.0 466.5,454.3 468.0,457.9 469.5,462.4 471.0,466.0 472.5,468.7 474.0,466.0 475.5,460.6 476.5,457.0 478.0,460.6 479.5,463.3 481.0,464.2 482.5,466.9 484.0,457.0 485.0,449.8 486.0,431.8 487.0,417.4 487.5,413.8 488.5,421.0 490.0,433.6 491.5,439.0 493.0,444.4 494.5,448.0 496.0,451.6 497.5,455.2 499.0,458.8 500.5,462.4 502.0,465.1 503.5,466.0 505.0,468.7 506.5,464.2 507.5,451.6 508.5,448.9 510.0,454.3 511.5,451.6 513.0,446.2 514.5,448.9 516.0,442.6 517.0,444.4 518.0,438.1 519.5,442.6 521.0,448.0 522.5,453.4 524.0,457.0 525.5,460.6 527.0,463.3 528.0,451.6 529.5,455.2 531.0,460.6 532.5,465.1 534.0,467.8 535.0,473.2 536.5,469.6 538.0,471.4 539.5,473.2 540.5,457.0 541.5,449.8 543.0,452.5 544.5,456.1 546.0,460.6 547.5,464.2 549.0,466.9 550.5,462.4 552.0,464.2 553.5,462.4 555.0,466.9 556.5,468.7 558.0,470.5 559.5,472.3 561.0,474.1 562.5,471.4 564.0,465.1 565.0,459.7 566.5,462.4 568.0,467.8 569.5,465.1 570.5,457.0 571.5,452.5 573.0,453.4 574.5,448.0 575.5,445.3 577.0,451.6 578.5,457.0 579.5,466.0 580.5,473.2 582.0,479.5 583.5,476.8 585.0,478.6 587.0,479.5 589.0,477.7 591.0,478.6 593.0,483.1 595.0,484.9 596.5,478.6 598.0,474.1 599.5,476.8 601.0,479.5 602.5,475.0 604.0,480.4 605.0,483.1 606.5,475.9 608.0,478.6 609.0,475.0 610.0,460.6 611.0,457.9 612.5,464.2 614.0,467.8 615.5,469.6 617.0,472.3 618.5,473.2 619.5,457.0 620.5,453.4 622.0,455.2 623.5,459.7 625.0,462.4 626.5,459.7 628.0,464.2 629.5,467.8 631.0,469.6 632.5,471.4 634.0,473.2 635.5,472.3 637.0,474.1 638.5,469.6 640.0,466.0 641.5,468.7 643.0,470.5 644.0,460.6 645.0,459.7 646.5,464.2 648.0,467.8 649.5,462.4 650.5,457.9 652.0,460.6 653.5,464.2 655.0,461.5 656.5,462.4 657.5,455.2 658.5,449.8 660.0,454.3 661.5,458.8 662.5,455.2 663.5,439.0 664.5,421.0 665.0,414.7 666.0,422.8 667.0,427.3 668.5,431.8 670.0,439.0 671.5,446.2 672.5,448.9 673.0,462.4 674.0,464.2 675.5,466.0 677.0,468.7 678.5,466.9 680.0,462.4 681.5,464.2 683.0,466.0 684.0,466.9 685.0,457.0 686.0,453.4 687.5,456.1 689.0,449.8 690.5,451.6 692.0,446.2 693.0,445.3 694.5,449.8 696.0,448.0 697.0,442.6 698.5,437.2 699.5,436.3 701.0,440.8 702.5,446.2 704.0,451.6 705.5,456.1 707.0,458.8 708.5,457.0 710.0,460.6 711.5,462.4 713.0,460.6 714.5,463.3 716.0,462.4 717.5,458.8 719.0,457.0 720.5,454.3 722.0,452.5 723.5,455.2 724.5,446.2 725.5,439.0 726.5,436.3 727.5,439.0 728.5,446.2 730.0,449.8 731.5,452.5 733.0,454.3 734.5,455.2 736.0,457.0 737.5,458.8 739.0,460.6 740.5,463.3 742.0,466.0 743.5,467.8 745.0,466.0 746.5,467.8 748.0,470.5 749.5,467.8 751.0,468.7 752.0,464.2 753.0,461.5 754.5,464.2 756.0,469.6 757.5,475.0 759.0,480.4 760.5,484.0 762.0,483.1 763.5,482.2 765.0,478.6 766.5,476.8 768.0,480.4 769.5,484.0 771.0,478.6 772.5,475.9 774.0,478.6 775.5,481.3 777.0,476.8 778.5,466.0 779.5,464.2 781.0,467.8 782.5,469.6 783.5,453.4 785.0,457.0 786.5,462.4 788.0,465.1 789.5,466.0 791.0,460.6 792.0,457.9 793.5,460.6 795.0,463.3 796.5,462.4 798.0,464.2 799.0,460.6 800.0,453.4 801.0,448.0 802.5,453.4 804.0,456.1 805.5,457.9 807.0,458.8 808.5,460.6 809.5,458.8 811.0,462.4 812.0,461.5 813.5,464.2 815.0,467.8 816.5,469.6 818.0,473.2 819.5,475.0 821.0,476.8 822.0,478.6 823.0,471.4 824.5,476.8 826.0,480.4 827.5,484.0 829.0,486.7 829.5,487.2" fill="none" stroke="#ff6d00" stroke-width="1.15" stroke-linejoin="round"/>
<line x1="10.7" y1="555.5" x2="1065" y2="555.5" stroke="#c3c8d2" stroke-width="1" stroke-dasharray="4.5 4.37"/>
<path d="M11 552.4H12V555.9H11ZM12 552.1H13V555.9H12ZM13 551.0H14V555.9H13ZM14 549.2H15V555.9H14ZM15 547.9H16V555.9H15ZM16 547.0H17V555.9H16ZM17 545.3H18V555.9H17ZM18 542.6H19V555.9H18ZM19 540.7H20V555.9H19ZM20 539.5H21V555.9H20ZM21 540.7H22V555.9H21ZM22 543.3H23V555.9H22ZM23 547.4H24V555.9H23ZM24 548.0H25V555.9H24ZM25 547.9H26V555.9H25ZM26 547.0H27V555.9H26ZM27 546.4H28V555.9H27ZM28 545.9H29V555.9H28ZM29 546.1H30V555.9H29ZM30 547.0H31V555.9H30ZM31 547.4H32V555.9H31ZM32 547.4H33V555.9H32ZM33 547.6H34V555.9H33ZM34 548.1H35V555.9H34ZM35 549.5H36V555.9H35ZM36 551.9H37V555.9H36ZM37 552.7H38V555.9H37ZM38 553.6H39V555.9H38ZM39 554.5H40V555.9H39ZM40 554.1H41V556.6H40ZM41 554.1H42V559.8H41ZM42 554.1H43V562.2H42ZM43 554.1H44V564.3H43ZM44 554.1H45V566.0H44ZM45 554.1H46V567.2H45ZM46 554.1H47V566.6H46ZM47 554.1H48V564.2H47ZM48 554.1H49V563.7H48ZM49 554.1H50V563.3H49ZM50 554.1H51V563.1H50ZM51 554.1H52V562.9H51ZM52 554.1H53V562.6H52ZM53 554.1H54V562.7H53ZM54 554.1H55V563.2H54ZM55 554.1H56V563.6H55ZM56 554.1H57V564.0H56ZM57 554.1H58V565.0H57ZM58 554.1H59V566.5H58ZM59 554.1H60V565.6H59ZM60 554.1H61V563.9H60ZM61 554.1H62V561.6H61ZM62 554.1H63V561.3H62ZM63 554.1H64V561.3H63ZM64 554.1H65V561.5H64ZM65 554.1H66V562.0H65ZM66 554.1H67V563.0H66ZM67 554.1H68V565.2H67ZM68 554.1H69V568.7H68ZM69 554.1H70V573.4H69ZM70 554.1H71V577.5H70ZM71 554.1H72V581.0H71ZM72 554.1H73V584.0H72ZM73 554.1H74V586.3H73ZM74 554.1H75V587.8H74ZM75 554.1H76V586.8H75ZM76 554.1H77V584.0H76ZM77 554.1H78V579.3H77ZM78 554.1H79V575.8H78ZM79 554.1H80V572.8H79ZM80 554.1H81V570.4H80ZM81 554.1H82V568.7H81ZM82 554.1H83V567.3H82ZM83 554.1H84V566.5H83ZM84 554.1H85V565.8H84ZM85 554.1H86V565.3H85ZM86 554.1H87V564.9H86ZM87 554.1H88V564.4H87ZM88 554.1H89V564.2H88ZM89 554.1H90V564.2H89ZM90 554.1H91V564.0H90ZM91 554.1H92V563.6H91ZM92 554.1H93V563.0H92ZM93 554.1H94V562.0H93ZM94 554.1H95V561.2H94ZM95 554.1H96V560.6H95ZM96 554.1H97V560.3H96ZM97 554.1H98V560.6H97ZM98 554.1H99V560.6H98ZM99 554.1H100V560.4H99ZM100 554.1H101V560.1H100ZM101 554.1H102V559.7H101ZM102 554.1H103V559.1H102ZM103 554.1H104V558.4H103ZM104 554.1H105V557.8H104ZM105 554.1H106V557.4H105ZM106 554.1H107V557.3H106ZM107 554.1H108V557.6H107ZM108 554.1H109V557.8H108ZM109 554.1H110V557.9H109ZM110 554.1H111V558.0H110ZM111 554.1H112V558.0H111ZM112 554.1H113V558.1H112ZM113 554.1H114V558.5H113ZM114 554.1H115V558.8H114ZM115 554.1H116V559.3H115ZM116 554.1H117V559.5H116ZM117 554.1H118V559.5H117ZM118 554.1H119V558.7H118ZM119 554.1H120V557.2H119ZM120 554.2H121V555.9H120ZM121 552.4H122V555.9H121ZM122 551.9H123V555.9H122ZM123 551.3H124V555.9H123ZM124 550.1H125V555.9H124ZM125 550.7H126V555.9H125ZM126 553.6H127V555.9H126ZM127 553.0H128V555.9H127ZM128 551.8H129V555.9H128ZM129 550.1H130V555.9H129ZM130 549.5H131V555.9H130ZM131 548.6H132V555.9H131ZM132 547.4H133V555.9H132ZM133 549.2H134V555.9H133ZM134 553.1H135V555.9H134ZM135 554.1H136V556.0H135ZM136 554.1H137V558.0H136ZM137 554.1H138V563.9H137ZM138 554.1H139V573.1H138ZM139 554.1H140V584.6H139ZM140 554.1H141V593.0H140ZM141 554.1H142V597.2H141ZM142 554.1H143V594.2H142ZM143 554.1H144V589.4H143ZM144 554.1H145V585.0H144ZM145 554.1H146V581.0H145ZM146 554.1H147V577.5H146ZM147 554.1H148V574.6H147ZM148 554.1H149V572.2H148ZM149 554.1H150V570.4H149ZM150 554.1H151V568.7H150ZM151 554.1H152V566.9H151ZM152 554.1H153V565.1H152ZM153 554.1H154V565.7H153ZM154 554.1H155V565.8H154ZM155 554.1H156V565.3H155ZM156 554.1H157V564.9H156ZM157 554.1H158V564.4H157ZM158 554.1H159V564.0H158ZM159 554.1H160V563.6H159ZM160 554.1H161V563.4H160ZM161 554.1H162V563.4H161ZM162 554.1H163V563.2H162ZM163 554.1H164V562.7H163ZM164 554.1H165V563.1H164ZM165 554.1H166V564.2H165ZM166 554.1H167V563.7H166ZM167 554.1H168V562.8H167ZM168 554.1H169V561.6H168ZM169 554.1H170V561.0H169ZM170 554.1H171V560.5H170ZM171 554.1H172V560.0H171ZM172 554.1H173V560.0H172ZM173 554.1H174V560.5H173ZM174 554.1H175V560.9H174ZM175 554.1H176V561.4H175ZM176 554.1H177V562.2H176ZM177 554.1H178V563.4H177ZM178 554.1H179V562.8H178ZM179 554.1H180V561.9H179ZM180 554.1H181V560.7H180ZM181 554.1H182V559.5H181ZM182 554.1H183V558.3H182ZM183 554.1H184V557.2H183ZM184 554.1H185V555.2H184ZM185 554.9H186V555.9H185ZM186 554.1H187V556.3H186ZM187 554.1H188V558.6H187ZM188 554.1H189V561.0H188ZM189 554.1H190V563.4H189ZM190 554.1H191V566.9H190ZM191 554.1H192V569.9H191ZM192 554.1H193V572.2H192ZM193 554.1H194V571.9H193ZM194 554.1H195V572.3H194ZM195 554.1H196V573.4H195ZM196 554.1H197V572.0H196ZM197 554.1H198V568.2H197ZM198 554.1H199V558.9H198ZM199 553.0H200V555.9H199ZM200 553.6H201V555.9H200ZM201 554.1H202V557.1H201ZM202 554.1H203V559.3H202ZM203 554.1H204V555.4H203ZM204 548.4H205V555.9H204ZM205 536.0H206V555.9H205ZM206 525.3H207V555.9H206ZM207 523.6H208V555.9H207ZM208 531.5H209V555.9H208ZM209 533.9H210V555.9H209ZM210 535.2H211V555.9H210ZM211 535.4H212V555.9H211ZM212 535.7H213V555.9H212ZM213 536.8H214V555.9H213ZM214 538.6H215V555.9H214ZM215 536.3H216V555.9H215ZM216 533.9H217V555.9H216ZM217 531.5H218V555.9H217ZM218 529.2H219V555.9H218ZM219 527.4H220V555.9H219ZM220 528.6H221V555.9H220ZM221 532.4H222V555.9H221ZM222 534.7H223V555.9H222ZM223 536.2H224V555.9H223ZM224 536.8H225V555.9H224ZM225 538.6H226V555.9H225ZM226 540.4H227V555.9H226ZM227 542.1H228V555.9H227ZM228 541.6H229V555.9H228ZM229 542.5H230V555.9H229ZM230 544.8H231V555.9H230ZM231 545.4H232V555.9H231ZM232 544.5H233V555.9H232ZM233 542.1H234V555.9H233ZM234 543.0H235V555.9H234ZM235 547.7H236V555.9H235ZM236 550.7H237V555.9H236ZM237 551.9H238V555.9H237ZM238 552.2H239V555.9H238ZM239 553.1H240V555.9H239ZM240 554.5H241V555.9H240ZM241 554.1H242V555.4H241ZM242 554.1H243V556.1H242ZM243 554.1H244V556.4H243ZM244 554.1H245V556.6H244ZM245 554.1H246V556.8H245ZM246 554.1H247V556.8H246ZM247 554.1H248V556.6H247ZM248 554.1H249V556.4H248ZM249 554.1H250V556.1H249ZM250 554.6H251V555.9H250ZM251 551.9H252V555.9H251ZM252 551.3H253V555.9H252ZM253 549.2H254V555.9H253ZM254 544.8H255V555.9H254ZM255 542.4H256V555.9H255ZM256 543.0H257V555.9H256ZM257 545.4H258V555.9H257ZM258 546.9H259V555.9H258ZM259 547.4H260V555.9H259ZM260 548.6H261V555.9H260ZM261 547.5H262V555.9H261ZM262 540.4H263V555.9H262ZM263 534.2H264V555.9H263ZM264 532.4H265V555.9H264ZM265 533.0H266V555.9H265ZM266 534.8H267V555.9H266ZM267 537.7H268V555.9H267ZM268 526.2H269V555.9H268ZM269 519.1H270V555.9H269ZM270 517.7H271V555.9H270ZM271 520.9H272V555.9H271ZM272 527.1H273V555.9H272ZM273 530.0H274V555.9H273ZM274 533.3H275V555.9H274ZM275 536.8H276V555.9H275ZM276 538.0H277V555.9H276ZM277 539.2H278V555.9H277ZM278 540.4H279V555.9H278ZM279 542.7H280V555.9H279ZM280 544.5H281V555.9H280ZM281 545.7H282V555.9H281ZM282 546.3H283V555.9H282ZM283 546.9H284V555.9H283ZM284 547.4H285V555.9H284ZM285 547.8H286V555.9H285ZM286 547.7H287V555.9H286ZM287 547.1H288V555.9H287ZM288 546.8H289V555.9H288ZM289 546.9H290V555.9H289ZM290 547.4H291V555.9H290ZM291 547.8H292V555.9H291ZM292 547.5H293V555.9H292ZM293 546.6H294V555.9H293ZM294 547.1H295V555.9H294ZM295 548.9H296V555.9H295ZM296 551.9H297V555.9H296ZM297 553.0H298V555.9H297ZM298 552.7H299V555.9H298ZM299 551.0H300V555.9H299ZM300 550.4H301V555.9H300ZM301 550.1H302V555.9H301ZM302 550.1H303V555.9H302ZM303 550.7H304V555.9H303ZM304 551.6H305V555.9H304ZM305 552.7H306V555.9H305ZM306 553.0H307V555.9H306ZM307 553.3H308V555.9H307ZM308 553.6H309V555.9H308ZM309 553.3H310V555.9H309ZM310 551.8H311V555.9H310ZM311 549.2H312V555.9H311ZM312 543.9H313V555.9H312ZM313 542.7H314V555.9H313ZM314 541.8H315V555.9H314ZM315 541.3H316V555.9H315ZM316 536.8H317V555.9H316ZM317 522.7H318V555.9H317ZM318 522.1H319V555.9H318ZM319 521.5H320V555.9H319ZM320 520.9H321V555.9H320ZM321 528.0H322V555.9H321ZM322 532.4H323V555.9H322ZM323 531.2H324V555.9H323ZM324 530.0H325V555.9H324ZM325 528.9H326V555.9H325ZM326 531.8H327V555.9H326ZM327 533.9H328V555.9H327ZM328 535.1H329V555.9H328ZM329 534.5H330V555.9H329ZM330 534.5H331V555.9H330ZM331 535.1H332V555.9H331ZM332 537.4H333V555.9H332ZM333 538.9H334V555.9H333ZM334 539.5H335V555.9H334ZM335 540.1H336V555.9H335ZM336 540.7H337V555.9H336ZM337 541.3H338V555.9H337ZM338 537.7H339V555.9H338ZM339 535.3H340V555.9H339ZM340 534.2H341V555.9H340ZM341 533.0H342V555.9H341ZM342 531.8H343V555.9H342ZM343 530.6H344V555.9H343ZM344 529.5H345V555.9H344ZM345 529.5H346V555.9H345ZM346 530.6H347V555.9H346ZM347 532.4H348V555.9H347ZM348 534.8H349V555.9H348ZM349 537.7H350V555.9H349ZM350 540.6H351V555.9H350ZM351 542.7H352V555.9H351ZM352 543.9H353V555.9H352ZM353 543.6H354V555.9H353ZM354 543.8H355V555.9H354ZM355 544.3H356V555.9H355ZM356 543.8H357V555.9H356ZM357 543.9H358V555.9H357ZM358 544.8H359V555.9H358ZM359 544.8H360V555.9H359ZM360 544.6H361V555.9H360ZM361 544.3H362V555.9H361ZM362 545.2H363V555.9H362ZM363 546.0H364V555.9H363ZM364 546.6H365V555.9H364ZM365 547.1H366V555.9H365ZM366 547.4H367V555.9H366ZM367 547.4H368V555.9H367ZM368 547.4H369V555.9H368ZM369 547.4H370V555.9H369ZM370 547.4H371V555.9H370ZM371 547.4H372V555.9H371ZM372 547.2H373V555.9H372ZM373 546.8H374V555.9H373ZM374 547.2H375V555.9H374ZM375 548.3H376V555.9H375ZM376 551.2H377V555.9H376ZM377 553.6H378V555.9H377ZM378 554.1H379V555.4H378ZM379 554.1H380V556.3H379ZM380 554.5H381V555.9H380ZM381 552.1H382V555.9H381ZM382 549.2H383V555.9H382ZM383 547.5H384V555.9H383ZM384 546.0H385V555.9H384ZM385 544.8H386V555.9H385ZM386 544.2H387V555.9H386ZM387 544.2H388V555.9H387ZM388 544.8H389V555.9H388ZM389 546.0H390V555.9H389ZM390 547.7H391V555.9H390ZM391 550.0H392V555.9H391ZM392 554.1H393V559.8H392ZM393 554.1H394V561.0H393ZM394 554.1H395V561.2H394ZM395 554.1H396V555.9H395ZM396 550.4H397V555.9H396ZM397 549.2H398V555.9H397ZM398 549.8H399V555.9H398ZM399 549.5H400V555.9H399ZM400 548.3H401V555.9H400ZM401 548.9H402V555.9H401ZM402 549.5H403V555.9H402ZM403 550.1H404V555.9H403ZM404 554.2H405V555.9H404ZM405 554.1H406V556.9H405ZM406 554.1H407V558.0H406ZM407 554.1H408V557.5H407ZM408 554.1H409V557.0H408ZM409 554.1H410V556.6H409ZM410 554.1H411V556.1H410ZM411 548.1H412V555.9H411ZM412 540.1H413V555.9H412ZM413 539.5H414V555.9H413ZM414 547.4H415V555.9H414ZM415 546.9H416V555.9H415ZM416 546.3H417V555.9H416ZM417 545.7H418V555.9H417ZM418 546.8H419V555.9H418ZM419 548.0H420V555.9H419ZM420 549.2H421V555.9H420ZM421 548.6H422V555.9H421ZM422 548.0H423V555.9H422ZM423 547.4H424V555.9H423ZM424 545.7H425V555.9H424ZM425 526.2H426V555.9H425ZM426 515.6H427V555.9H426ZM427 514.7H428V555.9H427ZM428 516.5H429V555.9H428ZM429 526.2H430V555.9H429ZM430 527.4H431V555.9H430ZM431 532.4H432V555.9H431ZM432 543.9H433V555.9H432ZM433 551.6H434V555.9H433ZM434 552.7H435V555.9H434ZM435 554.5H436V555.9H435ZM436 554.1H437V555.6H436ZM437 554.1H438V556.1H437ZM438 554.1H439V556.7H438ZM439 554.1H440V557.6H439ZM440 554.1H441V558.7H440ZM441 554.1H442V560.0H441ZM442 554.1H443V561.2H442ZM443 554.1H444V562.0H443ZM444 554.1H445V563.4H444ZM445 554.1H446V565.1H445ZM446 554.1H447V565.1H446ZM447 554.1H448V563.4H447ZM448 554.1H449V563.4H448ZM449 554.1H450V563.2H449ZM450 554.1H451V562.7H450ZM451 554.1H452V563.1H451ZM452 554.1H453V564.2H452ZM453 554.1H454V567.2H453ZM454 554.1H455V571.0H454ZM455 554.1H456V575.7H455ZM456 554.1H457V581.0H456ZM457 554.1H458V580.2H457ZM458 554.1H459V576.7H458ZM459 554.1H460V574.3H459ZM460 554.1H461V573.1H460ZM461 554.1H462V570.2H461ZM462 554.1H463V567.5H462ZM463 554.1H464V565.1H463ZM464 554.1H465V564.5H464ZM465 554.1H466V563.0H465ZM466 554.1H467V560.7H466ZM467 554.1H468V558.4H467ZM468 554.1H469V556.6H468ZM469 554.1H470V555.4H469ZM470 553.6H471V555.9H470ZM471 552.4H472V555.9H471ZM472 551.9H473V555.9H472ZM473 552.7H474V555.9H473ZM474 554.2H475V555.9H474ZM475 554.1H476V556.3H475ZM476 554.1H477V557.2H476ZM477 554.8H478V555.9H477ZM478 553.2H479V555.9H478ZM479 552.4H480V555.9H479ZM480 551.7H481V555.9H480ZM481 551.5H482V555.9H481ZM482 551.9H483V555.9H482ZM483 554.1H484V556.3H483ZM484 554.1H485V561.0H484ZM485 554.1H486V566.9H485ZM486 554.1H487V574.8H486ZM487 554.1H488V578.4H487ZM488 554.1H489V574.0H488ZM489 554.1H490V568.9H489ZM490 554.1H491V566.0H490ZM491 554.1H492V564.3H491ZM492 554.1H493V563.1H492ZM493 554.1H494V562.5H493ZM494 554.1H495V561.3H494ZM495 554.1H496V560.4H495ZM496 554.1H497V559.8H496ZM497 554.1H498V559.2H497ZM498 554.1H499V558.3H498ZM499 554.1H500V557.2H499ZM500 554.1H501V555.0H500ZM501 551.0H502V555.9H501ZM502 549.2H503V555.9H502ZM503 547.5H504V555.9H503ZM504 546.0H505V555.9H504ZM505 547.5H506V555.9H505ZM506 550.1H507V555.9H506ZM507 553.6H508V555.9H507ZM508 554.1H509V555.4H508ZM509 554.1H510V556.6H509ZM510 554.1H511V557.2H510ZM511 554.1H512V557.7H511ZM512 554.1H513V558.6H512ZM513 554.1H514V559.8H513ZM514 554.1H515V560.4H514ZM515 554.1H516V561.3H515ZM516 554.1H517V562.5H516ZM517 554.1H518V564.2H517ZM518 554.1H519V565.4H518ZM519 554.1H520V564.9H519ZM520 554.1H521V563.4H520ZM521 554.1H522V561.0H521ZM522 554.1H523V558.6H522ZM523 554.1H524V556.3H523ZM524 553.4H525V555.9H524ZM525 551.3H526V555.9H525ZM526 550.1H527V555.9H526ZM527 549.5H528V555.9H527ZM528 550.1H529V555.9H528ZM529 548.8H530V555.9H529ZM530 545.4H531V555.9H530ZM531 543.0H532V555.9H531ZM532 541.3H533V555.9H532ZM533 539.7H534V555.9H533ZM534 538.2H535V555.9H534ZM535 537.7H536V555.9H535ZM536 538.1H537V555.9H536ZM537 539.5H538V555.9H537ZM538 540.1H539V555.9H538ZM539 540.1H540V555.9H539ZM540 539.5H541V555.9H540ZM541 541.8H542V555.9H541ZM542 546.5H543V555.9H542ZM543 551.9H544V555.9H543ZM544 554.1H545V555.4H544ZM545 554.1H546V556.3H545ZM546 553.9H547V555.9H546ZM547 552.1H548V555.9H547ZM548 551.0H549V555.9H548ZM549 550.1H550V555.9H549ZM550 549.8H551V555.9H550ZM551 550.1H552V555.9H551ZM552 548.9H553V555.9H552ZM553 547.7H554V555.9H553ZM554 546.6H555V555.9H554ZM555 545.7H556V555.9H555ZM556 545.1H557V555.9H556ZM557 544.8H558V555.9H557ZM558 545.1H559V555.9H558ZM559 545.4H560V555.9H559ZM560 545.7H561V555.9H560ZM561 545.9H562V555.9H561ZM562 546.5H563V555.9H562ZM563 547.4H564V555.9H563ZM564 547.8H565V555.9H564ZM565 548.3H566V555.9H565ZM566 548.9H567V555.9H566ZM567 549.7H568V555.9H567ZM568 548.8H569V555.9H568ZM569 546.1H570V555.9H569ZM570 545.2H571V555.9H570ZM571 549.2H572V555.9H571ZM572 554.2H573V555.9H572ZM573 554.1H574V557.2H573ZM574 554.1H575V563.4H574ZM575 554.1H576V564.2H575ZM576 554.1H577V561.6H576ZM577 554.1H578V556.3H577ZM578 547.4H579V555.9H578ZM579 540.4H580V555.9H579ZM580 538.0H581V555.9H580ZM581 535.5H582V555.9H581ZM582 532.9H583V555.9H582ZM583 533.3H584V555.9H583ZM584 536.4H585V555.9H584ZM585 539.0H586V555.9H585ZM586 540.2H587V555.9H586ZM587 541.5H588V555.9H587ZM588 543.0H589V555.9H588ZM589 543.6H590V555.9H589ZM590 545.2H591V555.9H590ZM591 546.3H592V555.9H591ZM592 545.7H593V555.9H592ZM593 537.7H594V555.9H593ZM594 536.5H595V555.9H594ZM595 535.6H596V555.9H595ZM596 535.1H597V555.9H596ZM597 545.7H598V555.9H597ZM598 542.8H599V555.9H598ZM599 541.0H600V555.9H599ZM600 540.4H601V555.9H600ZM601 541.0H602V555.9H601ZM602 541.6H603V555.9H602ZM603 542.1H604V555.9H603ZM604 526.2H605V555.9H604ZM605 523.6H606V555.9H605ZM606 525.3H607V555.9H606ZM607 533.3H608V555.9H607ZM608 531.5H609V555.9H608ZM609 532.7H610V555.9H609ZM610 538.1H611V555.9H610ZM611 543.2H612V555.9H611ZM612 543.5H613V555.9H612ZM613 542.6H614V555.9H613ZM614 542.4H615V555.9H614ZM615 543.0H616V555.9H615ZM616 543.6H617V555.9H616ZM617 544.0H618V555.9H617ZM618 544.3H619V555.9H618ZM619 547.6H620V555.9H619ZM620 550.4H621V555.9H620ZM621 552.7H622V555.9H621ZM622 552.2H623V555.9H622ZM623 551.0H624V555.9H623ZM624 549.2H625V555.9H624ZM625 548.3H626V555.9H625ZM626 547.7H627V555.9H626ZM627 547.4H628V555.9H627ZM628 548.0H629V555.9H628ZM629 548.5H630V555.9H629ZM630 548.9H631V555.9H630ZM631 548.5H632V555.9H631ZM632 548.5H633V555.9H632ZM633 548.9H634V555.9H633ZM634 548.5H635V555.9H634ZM635 547.7H636V555.9H635ZM636 546.6H637V555.9H636ZM637 546.2H638V555.9H637ZM638 547.7H639V555.9H638ZM639 551.0H640V555.9H639ZM640 552.7H641V555.9H640ZM641 553.9H642V555.9H641ZM642 554.5H643V555.9H642ZM643 554.1H644V555.7H643ZM644 554.1H645V557.0H644ZM645 554.1H646V555.2H645ZM646 552.1H647V555.9H646ZM647 551.0H648V555.9H647ZM648 548.0H649V555.9H648ZM649 549.2H650V555.9H649ZM650 554.1H651V556.3H650ZM651 554.1H652V558.0H651ZM652 554.1H653V559.5H652ZM653 554.1H654V560.7H653ZM654 554.1H655V561.9H654ZM655 554.1H656V563.4H655ZM656 554.1H657V565.1H656ZM657 554.1H658V567.5H657ZM658 554.1H659V569.0H658ZM659 554.1H660V569.5H659ZM660 554.1H661V566.6H660ZM661 554.1H662V565.1H661ZM662 554.1H663V565.1H662ZM663 554.1H664V579.3H663ZM664 554.1H665V586.4H664ZM665 554.1H666V591.6H665ZM666 554.1H667V590.8H666ZM667 554.1H668V585.2H667ZM668 554.1H669V579.3H668ZM669 554.1H670V575.8H669ZM670 554.1H671V572.2H670ZM671 554.1H672V568.7H671ZM672 554.1H673V566.9H672ZM673 554.1H674V560.7H673ZM674 554.0H675V555.9H674ZM675 552.5H676V555.9H675ZM676 553.9H677V555.9H676ZM677 554.1H678V556.0H677ZM678 554.1H679V557.2H678ZM679 554.1H680V558.3H679ZM680 554.1H681V558.6H680ZM681 554.1H682V558.0H681ZM682 554.1H683V558.6H682ZM683 554.1H684V559.5H683ZM684 554.1H685V560.7H684ZM685 554.1H686V563.0H685ZM686 554.1H687V564.5H686ZM687 554.1H688V565.1H687ZM688 554.1H689V565.7H688ZM689 554.1H690V566.9H689ZM690 554.1H691V566.9H690ZM691 554.1H692V565.1H691ZM692 554.1H693V566.9H692ZM693 554.1H694V567.2H693ZM694 554.1H695V566.0H694ZM695 554.1H696V564.8H695ZM696 554.1H697V565.4H696ZM697 554.1H698V567.8H697ZM698 554.1H699V569.5H698ZM699 554.1H700V570.3H699ZM700 554.1H701V570.1H700ZM701 554.1H702V567.4H701ZM702 554.1H703V564.2H702ZM703 554.1H704V560.7H703ZM704 554.1H705V557.8H704ZM705 554.1H706V555.4H705ZM706 553.6H707V555.9H706ZM707 553.0H708V555.9H707ZM708 552.4H709V555.9H708ZM709 551.9H710V555.9H709ZM710 551.5H711V555.9H710ZM711 551.2H712V555.9H711ZM712 551.0H713V555.9H712ZM713 551.0H714V555.9H713ZM714 551.3H715V555.9H714ZM715 551.9H716V555.9H715ZM716 553.0H717V555.9H716ZM717 554.8H718V555.9H717ZM718 554.1H719V557.2H718ZM719 554.1H720V558.3H719ZM720 554.1H721V559.2H720ZM721 554.1H722V559.8H721ZM722 554.1H723V560.7H722ZM723 554.1H724V561.6H723ZM724 554.1H725V562.5H724ZM725 554.1H726V566.0H725ZM726 554.1H727V569.5H726ZM727 554.1H728V571.3H727ZM728 554.1H729V568.7H728ZM729 554.1H730V565.1H729ZM730 554.1H731V562.8H730ZM731 554.1H732V561.0H731ZM732 554.1H733V559.8H732ZM733 554.1H734V559.2H733ZM734 554.1H735V558.9H734ZM735 554.1H736V558.9H735ZM736 554.1H737V558.7H736ZM737 554.1H738V558.1H737ZM738 554.1H739V557.2H738ZM739 554.1H740V556.3H739ZM740 553.0H741V555.9H740ZM741 549.5H742V555.9H741ZM742 550.0H743V555.9H742ZM743 551.3H744V555.9H743ZM744 551.9H745V555.9H744ZM745 552.2H746V555.9H745ZM746 552.6H747V555.9H746ZM747 553.1H748V555.9H747ZM748 553.8H749V555.9H748ZM749 554.3H750V555.9H749ZM750 554.5H751V555.9H750ZM751 554.1H752V555.1H751ZM752 554.1H753V556.6H752ZM753 554.1H754V558.9H753ZM754 554.1H755V558.0H754ZM755 554.1H756V555.4H755ZM756 552.7H757V555.9H756ZM757 531.5H758V555.9H757ZM758 528.9H759V555.9H758ZM759 528.0H760V555.9H759ZM760 530.6H761V555.9H760ZM761 533.0H762V555.9H761ZM762 535.1H763V555.9H762ZM763 536.8H764V555.9H763ZM764 538.6H765V555.9H764ZM765 540.4H766V555.9H765ZM766 542.1H767V555.9H766ZM767 541.7H768V555.9H767ZM768 540.6H769V555.9H768ZM769 538.8H770V555.9H769ZM770 536.8H771V555.9H770ZM771 538.5H772V555.9H771ZM772 542.1H773V555.9H772ZM773 542.7H774V555.9H773ZM774 542.6H775V555.9H774ZM775 541.8H776V555.9H775ZM776 541.3H777V555.9H776ZM777 543.0H778V555.9H777ZM778 545.1H779V555.9H778ZM779 547.4H780V555.9H779ZM780 548.0H781V555.9H780ZM781 548.3H782V555.9H781ZM782 548.3H783V555.9H782ZM783 548.1H784V555.9H783ZM784 549.0H785V555.9H784ZM785 551.0H786V555.9H785ZM786 551.6H787V555.9H786ZM787 550.7H788V555.9H787ZM788 548.3H789V555.9H788ZM789 547.4H790V555.9H789ZM790 548.6H791V555.9H790ZM791 550.1H792V555.9H791ZM792 551.9H793V555.9H792ZM793 552.2H794V555.9H793ZM794 552.6H795V555.9H794ZM795 553.1H796V555.9H795ZM796 554.1H797V555.2H796ZM797 554.1H798V556.9H797ZM798 554.1H799V558.0H798ZM799 554.1H800V560.4H799ZM800 554.1H801V562.5H800ZM801 554.1H802V568.7H801ZM802 554.1H803V562.5H802ZM803 554.1H804V560.7H803ZM804 554.1H805V560.1H804ZM805 554.1H806V560.7H805ZM806 554.1H807V559.5H806ZM807 554.1H808V558.3H807ZM808 554.1H809V557.2H808ZM809 554.1H810V557.7H809ZM810 554.1H811V555.4H810ZM811 551.4H812V555.9H811ZM812 551.9H813V555.9H812ZM813 553.3H814V555.9H813ZM814 552.7H815V555.9H814ZM815 552.2H816V555.9H815ZM816 550.7H817V555.9H816ZM817 548.3H818V555.9H817ZM818 540.4H819V555.9H818ZM819 535.9H820V555.9H819ZM820 536.5H821V555.9H820ZM821 536.7H822V555.9H821ZM822 536.5H823V555.9H822ZM823 534.4H824V555.9H823ZM824 529.8H825V555.9H824ZM825 524.5H826V555.9H825ZM826 523.2H827V555.9H826ZM827 525.4H828V555.9H827ZM828 527.1H829V555.9H828ZM829 527.1H830V555.9H829ZM830 528.0H831V555.9H830Z" fill="#2962ff"/>
<g stroke-width="1">
<line x1="10.7" y1="545.5" x2="1065" y2="545.5" stroke="#787b86" stroke-dasharray="4.5 4.37"/>
<line x1="10.7" y1="563.5" x2="1065" y2="563.5" stroke="#787b86" stroke-dasharray="4.5 4.37"/>
</g>
<text x="10.9" y="20.2" textLength="53.2" lengthAdjust="spacingAndGlyphs" font-size="12.5" fill="#131722" stroke="#131722" stroke-width="0.22">FxWirePro</text><text x="68.5" y="20.2" textLength="40.1" lengthAdjust="spacingAndGlyphs" font-size="12.5" fill="#131722" stroke="#131722" stroke-width="0.22">created</text><text x="113.9" y="20.2" textLength="21.8" lengthAdjust="spacingAndGlyphs" font-size="12.5" fill="#131722" stroke="#131722" stroke-width="0.22">with</text><text x="140.7" y="20.2" textLength="93.0" lengthAdjust="spacingAndGlyphs" font-size="12.5" fill="#131722" stroke="#131722" stroke-width="0.22">TradingView.com,</text><text x="239.6" y="20.2" textLength="14.3" lengthAdjust="spacingAndGlyphs" font-size="12.5" fill="#131722" stroke="#131722" stroke-width="0.22">Jul</text><text x="259.8" y="20.2" textLength="15.1" lengthAdjust="spacingAndGlyphs" font-size="12.5" fill="#131722" stroke="#131722" stroke-width="0.22">21,</text><text x="279.4" y="20.2" textLength="23.2" lengthAdjust="spacingAndGlyphs" font-size="12.5" fill="#131722" stroke="#131722" stroke-width="0.22">2025</text><text x="307.3" y="20.2" textLength="29.7" lengthAdjust="spacingAndGlyphs" font-size="12.5" fill="#131722" stroke="#131722" stroke-width="0.22">04:37</text><text x="342.1" y="20.2" textLength="20.1" lengthAdjust="spacingAndGlyphs" font-size="12.5" fill="#131722" stroke="#131722" stroke-width="0.22">UTC</text>
<text x="18.7" y="47.2" textLength="20.4" lengthAdjust="spacingAndGlyphs" font-size="12" fill="#131722" stroke="#131722" stroke-width="0.22">BNB</text>
<text x="51.6" y="47.2" textLength="13.2" lengthAdjust="spacingAndGlyphs" font-size="12" fill="#131722" stroke="#131722" stroke-width="0.22">1D</text>
<text x="76.5" y="47.2" textLength="40.7" lengthAdjust="spacingAndGlyphs" font-size="12" fill="#131722" stroke="#131722" stroke-width="0.22">CRYPTO</text>
<rect x="44.2" y="42.2" width="2.1" height="2.1" fill="#131722"/><rect x="69.6" y="42.2" width="2.1" height="2.1" fill="#131722"/>
<text x="125.3" y="47.2" textLength="7.5" lengthAdjust="spacingAndGlyphs" font-size="12" fill="#131722" stroke="#131722" stroke-width="0.22">O</text>
<text x="133.6" y="47.2" textLength="35.3" lengthAdjust="spacingAndGlyphs" font-size="12" fill="#089981" stroke="#089981" stroke-width="0.22">757.25</text>
<text x="177.2" y="47.2" textLength="6.8" lengthAdjust="spacingAndGlyphs" font-size="12" fill="#131722" stroke="#131722" stroke-width="0.22">H</text>
<text x="184.7" y="47.2" textLength="35.1" lengthAdjust="spacingAndGlyphs" font-size="12" fill="#089981" stroke="#089981" stroke-width="0.22">764.29</text>
<text x="227.4" y="47.2" textLength="5.3" lengthAdjust="spacingAndGlyphs" font-size="12" fill="#131722" stroke="#131722" stroke-width="0.22">L</text>
<text x="233.6" y="47.2" textLength="34.9" lengthAdjust="spacingAndGlyphs" font-size="12" fill="#089981" stroke="#089981" stroke-width="0.22">746.48</text>
<text x="276.5" y="47.2" textLength="6.4" lengthAdjust="spacingAndGlyphs" font-size="12" fill="#131722" stroke="#131722" stroke-width="0.22">C</text>
<text x="284.0" y="47.2" textLength="34.2" lengthAdjust="spacingAndGlyphs" font-size="12" fill="#089981" stroke="#089981" stroke-width="0.22">763.16</text>
<text x="327.3" y="47.2" textLength="27.4" lengthAdjust="spacingAndGlyphs" font-size="12" fill="#089981" stroke="#089981" stroke-width="0.22">+5.91</text>
<text x="360.4" y="47.2" textLength="44.3" lengthAdjust="spacingAndGlyphs" font-size="12" fill="#089981" stroke="#089981" stroke-width="0.22">(+0.78%)</text>
<text x="19.0" y="64.3" textLength="21.2" lengthAdjust="spacingAndGlyphs" font-size="12" fill="#131722" stroke="#131722" stroke-width="0.22">EMA</text><text x="45.0" y="64.3" textLength="20.2" lengthAdjust="spacingAndGlyphs" font-size="12" fill="#131722" stroke="#131722" stroke-width="0.22">(55,</text><text x="69.4" y="64.3" textLength="30.8" lengthAdjust="spacingAndGlyphs" font-size="12" fill="#131722" stroke="#131722" stroke-width="0.22">close,</text><text x="104.4" y="64.3" textLength="8.0" lengthAdjust="spacingAndGlyphs" font-size="12" fill="#131722" stroke="#131722" stroke-width="0.22">0,</text><text x="119.0" y="64.3" textLength="23.4" lengthAdjust="spacingAndGlyphs" font-size="12" fill="#131722" stroke="#131722" stroke-width="0.22">SMA,</text><text x="148.7" y="64.3" textLength="9.0" lengthAdjust="spacingAndGlyphs" font-size="12" fill="#131722" stroke="#131722" stroke-width="0.22">5)</text>
<text x="166.2" y="64.3" textLength="35.0" lengthAdjust="spacingAndGlyphs" font-size="12" fill="#089981" stroke="#089981" stroke-width="0.22">672.56</text>
<text x="19.0" y="81.2" textLength="21.2" lengthAdjust="spacingAndGlyphs" font-size="12" fill="#131722" stroke="#131722" stroke-width="0.22">EMA</text><text x="45.0" y="81.2" textLength="26.0" lengthAdjust="spacingAndGlyphs" font-size="12" fill="#131722" stroke="#131722" stroke-width="0.22">(365,</text><text x="75.8" y="81.2" textLength="30.2" lengthAdjust="spacingAndGlyphs" font-size="12" fill="#131722" stroke="#131722" stroke-width="0.22">close)</text>
<text x="114.8" y="81.2" textLength="35.0" lengthAdjust="spacingAndGlyphs" font-size="12" fill="#e91e63" stroke="#e91e63" stroke-width="0.22">610.02</text>
<text x="19.0" y="98.0" textLength="21.2" lengthAdjust="spacingAndGlyphs" font-size="12" fill="#131722" stroke="#131722" stroke-width="0.22">EMA</text><text x="45.0" y="98.0" textLength="26.0" lengthAdjust="spacingAndGlyphs" font-size="12" fill="#131722" stroke="#131722" stroke-width="0.22">(200,</text><text x="75.8" y="98.0" textLength="30.2" lengthAdjust="spacingAndGlyphs" font-size="12" fill="#131722" stroke="#131722" stroke-width="0.22">close,</text><text x="110.4" y="98.0" textLength="7.7" lengthAdjust="spacingAndGlyphs" font-size="12" fill="#131722" stroke="#131722" stroke-width="0.22">0,</text><text x="124.9" y="98.0" textLength="23.3" lengthAdjust="spacingAndGlyphs" font-size="12" fill="#131722" stroke="#131722" stroke-width="0.22">SMA,</text><text x="154.6" y="98.0" textLength="9.5" lengthAdjust="spacingAndGlyphs" font-size="12" fill="#131722" stroke="#131722" stroke-width="0.22">5)</text>
<text x="172.6" y="98.0" textLength="35.0" lengthAdjust="spacingAndGlyphs" font-size="12" fill="#673ab7" stroke="#673ab7" stroke-width="0.22">641.38</text>
<text x="18.9" y="402.4" textLength="18.0" lengthAdjust="spacingAndGlyphs" font-size="12" fill="#131722" stroke="#131722" stroke-width="0.22">DMI</text><text x="42.3" y="402.4" textLength="19.8" lengthAdjust="spacingAndGlyphs" font-size="12" fill="#131722" stroke="#131722" stroke-width="0.22">(14,</text><text x="67.0" y="402.4" textLength="15.8" lengthAdjust="spacingAndGlyphs" font-size="12" fill="#131722" stroke="#131722" stroke-width="0.22">14)</text>
<text x="90.9" y="402.4" textLength="41.4" lengthAdjust="spacingAndGlyphs" font-size="12" fill="#131722" stroke="#131722" stroke-width="0.22">34.1168</text>
<text x="140.4" y="402.4" textLength="41.4" lengthAdjust="spacingAndGlyphs" font-size="12" fill="#2962ff" stroke="#2962ff" stroke-width="0.22">41.8864</text>
<text x="189.0" y="402.4" textLength="35.7" lengthAdjust="spacingAndGlyphs" font-size="12" fill="#ff6d00" stroke="#ff6d00" stroke-width="0.22">7.9925</text>
<text x="18.6" y="524.7" textLength="15.9" lengthAdjust="spacingAndGlyphs" font-size="12" fill="#131722" stroke="#131722" stroke-width="0.22">CCI</text><text x="40.7" y="524.7" textLength="19.4" lengthAdjust="spacingAndGlyphs" font-size="12" fill="#131722" stroke="#131722" stroke-width="0.22">(50,</text><text x="65.4" y="524.7" textLength="24.8" lengthAdjust="spacingAndGlyphs" font-size="12" fill="#131722" stroke="#131722" stroke-width="0.22">hlc3,</text><text x="95.5" y="524.7" textLength="22.1" lengthAdjust="spacingAndGlyphs" font-size="12" fill="#131722" stroke="#131722" stroke-width="0.22">SMA,</text><text x="124.7" y="524.7" textLength="10.0" lengthAdjust="spacingAndGlyphs" font-size="12" fill="#131722" stroke="#131722" stroke-width="0.22">5)</text>
<text x="142.4" y="524.7" textLength="35.3" lengthAdjust="spacingAndGlyphs" font-size="12" fill="#2962ff" stroke="#2962ff" stroke-width="0.22">281.16</text>
<clipPath id="c8"><rect x="1066" y="60.4" width="64" height="8"/></clipPath>
<g clip-path="url(#c8)"><text x="1073.9" y="64.2" textLength="36.1" lengthAdjust="spacingAndGlyphs" font-size="12" fill="#131722" stroke="#131722" stroke-width="0.22">800.00</text></g>
<text x="1073.9" y="112.8" textLength="36.1" lengthAdjust="spacingAndGlyphs" font-size="12" fill="#131722" stroke="#131722" stroke-width="0.22">700.00</text>
<text x="1073.9" y="161.6" textLength="36.1" lengthAdjust="spacingAndGlyphs" font-size="12" fill="#131722" stroke="#131722" stroke-width="0.22">600.00</text>
<text x="1073.9" y="210.6" textLength="36.1" lengthAdjust="spacingAndGlyphs" font-size="12" fill="#131722" stroke="#131722" stroke-width="0.22">500.00</text>
<text x="1073.9" y="259.8" textLength="36.1" lengthAdjust="spacingAndGlyphs" font-size="12" fill="#131722" stroke="#131722" stroke-width="0.22">400.00</text>
<text x="1073.9" y="308.5" textLength="36.1" lengthAdjust="spacingAndGlyphs" font-size="12" fill="#131722" stroke="#131722" stroke-width="0.22">300.00</text>
<text x="1073.9" y="357.0" textLength="36.1" lengthAdjust="spacingAndGlyphs" font-size="12" fill="#131722" stroke="#131722" stroke-width="0.22">200.00</text>
<text x="1073.9" y="398.3" textLength="42.6" lengthAdjust="spacingAndGlyphs" font-size="12" fill="#131722" stroke="#131722" stroke-width="0.22">60.0000</text>
<text x="1073.9" y="434.5" textLength="42.6" lengthAdjust="spacingAndGlyphs" font-size="12" fill="#131722" stroke="#131722" stroke-width="0.22">40.0000</text>
<text x="1073.9" y="470.3" textLength="42.6" lengthAdjust="spacingAndGlyphs" font-size="12" fill="#131722" stroke="#131722" stroke-width="0.22">20.0000</text>
<clipPath id="c0"><rect x="1066" y="490" width="64" height="13"/></clipPath>
<g clip-path="url(#c0)"><text x="1073.9" y="504.9" textLength="42.6" lengthAdjust="spacingAndGlyphs" font-size="12" fill="#131722" stroke="#131722" stroke-width="0.22">0.0000</text></g>
<text x="1073.9" y="522.6" textLength="36.1" lengthAdjust="spacingAndGlyphs" font-size="12" fill="#131722" stroke="#131722" stroke-width="0.22">400.00</text>
<text x="1073.9" y="558.8" textLength="23.6" lengthAdjust="spacingAndGlyphs" font-size="12" fill="#131722" stroke="#131722" stroke-width="0.22">0.00</text>
<text x="1074.5" y="596.6" textLength="41.4" lengthAdjust="spacingAndGlyphs" font-size="12" fill="#131722" stroke="#131722" stroke-width="0.22">−400.00</text>
<rect x="1069.3" y="31.3" width="57.3" height="24.8" rx="4" fill="#fff" stroke="#ebebee"/>
<text x="1078.3" y="47.8" textLength="20.4" lengthAdjust="spacingAndGlyphs" font-size="12" fill="#2a2e39" stroke="#2a2e39" stroke-width="0.22">USD</text>
<rect x="1013.9" y="69.2" width="51" height="16.8" rx="2" fill="#089981"/>
<text x="1018.4" y="82.3" textLength="41.7" lengthAdjust="spacingAndGlyphs" font-size="12" fill="#fff" stroke="#fff" stroke-width="0.22">BNBUSD</text>
<rect x="1065.7" y="69.2" width="60.7" height="31.2" rx="2" fill="#089981"/>
<text x="1075.2" y="82.3" textLength="35.1" lengthAdjust="spacingAndGlyphs" font-size="12" fill="#fff" stroke="#fff" stroke-width="0.22">763.16</text>
<text x="1075.2" y="96.9" textLength="46.2" lengthAdjust="spacingAndGlyphs" font-size="12" fill="#fff" stroke="#fff" stroke-width="0.22" fill-opacity="0.72">19:22:30</text>
<text x="23.8" y="624.5" textLength="21.5" lengthAdjust="spacingAndGlyphs" font-size="12" fill="#131722" stroke="#131722" stroke-width="0.22">May</text>
<text x="86.8" y="624.5" textLength="16.5" lengthAdjust="spacingAndGlyphs" font-size="12" fill="#131722" stroke="#131722" stroke-width="0.22">Jul</text>
<text x="145.0" y="624.5" textLength="21.0" lengthAdjust="spacingAndGlyphs" font-size="12" fill="#131722" stroke="#131722" stroke-width="0.22">Sep</text>
<text x="204.5" y="624.5" textLength="21.0" lengthAdjust="spacingAndGlyphs" font-size="12" fill="#131722" stroke="#131722" stroke-width="0.22">Nov</text>
<text x="260.4" y="624.5" textLength="28.5" lengthAdjust="spacingAndGlyphs" font-size="12" fill="#131722" stroke="#131722" stroke-width="0.22" font-weight="bold">2024</text>
<text x="322.7" y="624.5" textLength="20.0" lengthAdjust="spacingAndGlyphs" font-size="12" fill="#131722" stroke="#131722" stroke-width="0.22">Mar</text>
<text x="381.9" y="624.5" textLength="21.5" lengthAdjust="spacingAndGlyphs" font-size="12" fill="#131722" stroke="#131722" stroke-width="0.22">May</text>
<text x="444.6" y="624.5" textLength="16.5" lengthAdjust="spacingAndGlyphs" font-size="12" fill="#131722" stroke="#131722" stroke-width="0.22">Jul</text>
<text x="503.5" y="624.5" textLength="21.0" lengthAdjust="spacingAndGlyphs" font-size="12" fill="#131722" stroke="#131722" stroke-width="0.22">Sep</text>
<text x="562.3" y="624.5" textLength="21.0" lengthAdjust="spacingAndGlyphs" font-size="12" fill="#131722" stroke="#131722" stroke-width="0.22">Nov</text>
<text x="618.5" y="624.5" textLength="28.5" lengthAdjust="spacingAndGlyphs" font-size="12" fill="#131722" stroke="#131722" stroke-width="0.22" font-weight="bold">2025</text>
<text x="679.7" y="624.5" textLength="20.0" lengthAdjust="spacingAndGlyphs" font-size="12" fill="#131722" stroke="#131722" stroke-width="0.22">Mar</text>
<text x="738.5" y="624.5" textLength="21.5" lengthAdjust="spacingAndGlyphs" font-size="12" fill="#131722" stroke="#131722" stroke-width="0.22">May</text>
<text x="801.6" y="624.5" textLength="16.5" lengthAdjust="spacingAndGlyphs" font-size="12" fill="#131722" stroke="#131722" stroke-width="0.22">Jul</text>
<text x="859.9" y="624.5" textLength="21.0" lengthAdjust="spacingAndGlyphs" font-size="12" fill="#131722" stroke="#131722" stroke-width="0.22">Sep</text>
<text x="919.0" y="624.5" textLength="21.0" lengthAdjust="spacingAndGlyphs" font-size="12" fill="#131722" stroke="#131722" stroke-width="0.22">Nov</text>
<text x="975.4" y="624.5" textLength="28.5" lengthAdjust="spacingAndGlyphs" font-size="12" fill="#131722" stroke="#131722" stroke-width="0.22" font-weight="bold">2026</text>
<text x="1037.3" y="624.5" textLength="20.0" lengthAdjust="spacingAndGlyphs" font-size="12" fill="#131722" stroke="#131722" stroke-width="0.22">Mar</text>
</svg></body></html>
